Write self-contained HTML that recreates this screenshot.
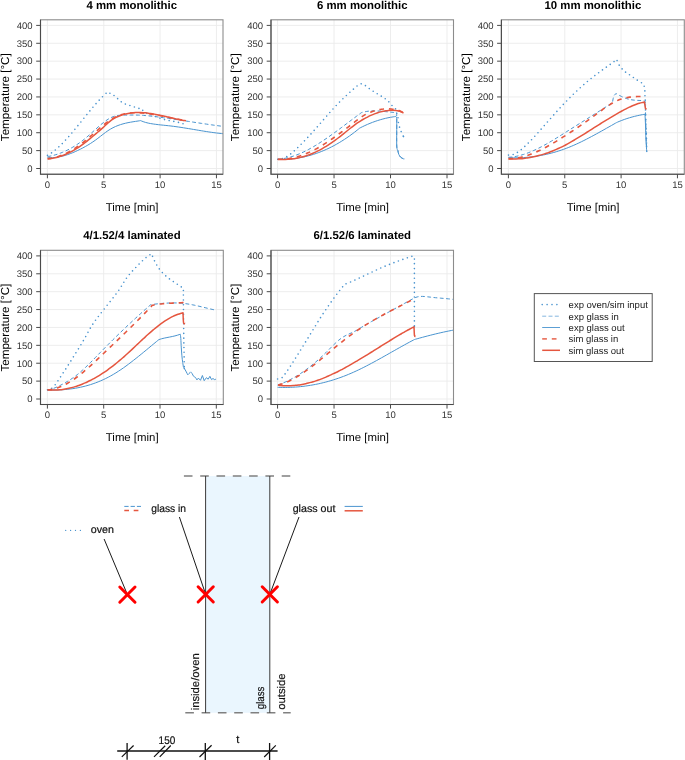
<!DOCTYPE html><html><head><meta charset="utf-8"><style>html,body{margin:0;padding:0;background:#fff;overflow:hidden;}svg{display:block;will-change:transform;}text{font-family:"Liberation Sans",sans-serif;text-rendering:geometricPrecision;}</style></head><body>
<svg width="685" height="760" viewBox="0 0 685 760">
<rect width="685" height="760" fill="#fff"/>
<clipPath id="c0"><rect x="40.5" y="19.8" width="182.5" height="154.4"/></clipPath>
<path d="M40.5 168.5H223M40.5 150.61H223M40.5 132.72H223M40.5 114.84H223M40.5 96.95H223M40.5 79.06H223M40.5 61.17H223M40.5 43.29H223M40.5 25.4H223M47.4 19.8V174.2M103.75 19.8V174.2M160.1 19.8V174.2M216.45 19.8V174.2" stroke="#ebebeb" stroke-width="0.9" fill="none"/>
<g clip-path="url(#c0)" fill="none" stroke-linejoin="round">
<path d="M47.5 155.4C47.93 155.14 49.24 154.4 50.1 153.83C50.97 153.27 51.84 152.66 52.71 152.02C53.58 151.38 54.44 150.69 55.31 149.98C56.18 149.26 57.05 148.5 57.92 147.72C58.79 146.94 59.65 146.12 60.52 145.28C61.39 144.44 62.26 143.57 63.13 142.67C63.99 141.78 64.86 140.85 65.73 139.91C66.6 138.97 67.47 138.01 68.33 137.03C69.2 136.04 70.07 135.04 70.94 134.03C71.81 133.02 72.68 131.99 73.54 130.95C74.41 129.91 75.28 128.86 76.15 127.8C77.02 126.74 77.88 125.67 78.75 124.6C79.62 123.53 80.49 122.45 81.36 121.38C82.22 120.3 83.09 119.22 83.96 118.15C84.83 117.07 85.7 116 86.57 114.93C87.43 113.86 88.3 112.8 89.17 111.75C90.04 110.69 90.91 109.65 91.77 108.62C92.64 107.59 93.51 106.56 94.38 105.56C95.25 104.56 96.11 103.57 96.98 102.6C97.85 101.63 98.72 100.68 99.59 99.75C100.46 98.83 101.32 97.92 102.19 97.04C103.06 96.16 103.93 95.31 104.8 94.48C105.66 93.66 106.97 92.5 107.4 92.1C107.83 92.29 109.14 92.83 110.01 93.25C110.88 93.67 111.75 94.09 112.62 94.63C113.48 95.17 114.35 95.76 115.22 96.47C116.09 97.17 116.96 98.08 117.83 98.87C118.7 99.66 119.57 100.52 120.44 101.21C121.31 101.9 122.18 102.49 123.05 102.99C123.92 103.49 124.78 103.86 125.65 104.21C126.52 104.56 127.39 104.81 128.26 105.08C129.13 105.35 130 105.56 130.87 105.83C131.74 106.1 132.61 106.38 133.48 106.68C134.35 106.98 135.22 107.33 136.08 107.61C136.95 107.89 137.82 108.18 138.69 108.34C139.56 108.51 140.87 108.56 141.3 108.6C141.73 109.09 143.04 110.8 143.91 111.57C144.78 112.34 145.64 112.79 146.51 113.23C147.38 113.67 148.25 113.9 149.12 114.21C149.99 114.52 150.86 114.78 151.73 115.08C152.59 115.39 153.46 115.72 154.33 116.04C155.2 116.37 156.07 116.71 156.94 117.04C157.81 117.36 158.68 117.69 159.54 118C160.41 118.31 161.28 118.61 162.15 118.88C163.02 119.15 163.89 119.4 164.76 119.62C165.62 119.85 166.49 120.04 167.36 120.23C168.23 120.41 169.1 120.58 169.97 120.74C170.84 120.9 171.71 121.05 172.57 121.21C173.44 121.37 174.31 121.53 175.18 121.7C176.05 121.87 176.92 122.04 177.79 122.24C178.66 122.44 179.53 122.65 180.39 122.89C181.26 123.14 182.57 123.57 183 123.7" stroke="#4a94cf" stroke-width="1.65" stroke-dasharray="0 4.75" stroke-linecap="round"/>
<circle cx="183" cy="123.7" r="0.82" fill="#4a94cf" stroke="none"/>
<path d="M47.6 156.6C48.02 156.52 49.28 156.3 50.12 156.13C50.96 155.95 51.8 155.76 52.64 155.56C53.48 155.35 54.32 155.12 55.16 154.88C56 154.64 56.84 154.38 57.68 154.1C58.52 153.83 59.36 153.53 60.2 153.22C61.04 152.91 61.88 152.58 62.72 152.23C63.56 151.88 64.4 151.51 65.24 151.13C66.08 150.74 66.92 150.34 67.76 149.92C68.6 149.5 69.44 149.06 70.28 148.6C71.12 148.14 71.96 147.67 72.8 147.17C73.64 146.67 74.48 146.16 75.32 145.63C76.16 145.09 77 144.54 77.84 143.97C78.68 143.4 79.52 142.8 80.36 142.19C81.2 141.58 82.04 140.95 82.88 140.3C83.72 139.65 84.56 138.98 85.4 138.29C86.24 137.6 87.08 136.89 87.92 136.16C88.76 135.44 89.6 134.69 90.44 133.94C91.28 133.19 92.12 132.43 92.96 131.67C93.8 130.91 94.64 130.14 95.48 129.39C96.32 128.63 97.16 127.87 98 127.13C98.84 126.39 99.68 125.65 100.52 124.94C101.36 124.23 102.2 123.53 103.04 122.86C103.88 122.2 104.72 121.55 105.56 120.94C106.4 120.34 107.24 119.76 108.08 119.24C108.92 118.71 109.76 118.22 110.6 117.8C111.44 117.37 112.28 116.99 113.12 116.67C113.96 116.35 114.8 116.1 115.64 115.9C116.48 115.69 117.32 115.55 118.16 115.44C119 115.32 119.84 115.26 120.68 115.2C121.52 115.15 122.36 115.13 123.2 115.12C124.04 115.1 124.88 115.1 125.72 115.09C126.56 115.08 127.4 115.07 128.24 115.06C129.08 115.06 129.92 115.05 130.76 115.04C131.6 115.03 132.44 115.03 133.28 115.03C134.12 115.03 134.96 115.04 135.8 115.05C136.64 115.06 137.48 115.08 138.32 115.11C139.16 115.14 140 115.18 140.84 115.23C141.68 115.27 142.52 115.33 143.36 115.39C144.2 115.45 145.04 115.52 145.88 115.6C146.72 115.67 147.56 115.76 148.4 115.84C149.24 115.93 150.08 116.02 150.92 116.11C151.76 116.21 152.6 116.31 153.44 116.41C154.28 116.51 155.12 116.62 155.96 116.72C156.8 116.83 157.64 116.94 158.48 117.04C159.32 117.15 160.16 117.26 161 117.38C161.84 117.49 162.68 117.6 163.52 117.72C164.36 117.83 165.2 117.95 166.04 118.07C166.88 118.18 167.72 118.3 168.56 118.42C169.4 118.54 170.24 118.66 171.08 118.79C171.92 118.91 172.76 119.03 173.6 119.15C174.44 119.28 175.28 119.4 176.12 119.53C176.96 119.65 177.8 119.78 178.64 119.9C179.48 120.03 180.32 120.16 181.16 120.28C182 120.41 182.84 120.54 183.68 120.67C184.52 120.8 185.36 120.92 186.2 121.05C187.04 121.18 187.88 121.31 188.72 121.44C189.56 121.57 190.4 121.7 191.24 121.82C192.08 121.95 192.92 122.08 193.76 122.21C194.6 122.34 195.44 122.47 196.28 122.59C197.12 122.72 197.96 122.85 198.8 122.97C199.64 123.1 200.48 123.23 201.32 123.35C202.16 123.48 203 123.6 203.84 123.73C204.68 123.85 205.52 123.98 206.36 124.1C207.2 124.22 208.04 124.34 208.88 124.46C209.72 124.58 210.56 124.7 211.4 124.82C212.24 124.94 213.08 125.06 213.92 125.18C214.76 125.29 215.6 125.41 216.44 125.52C217.28 125.63 218.12 125.75 218.96 125.86C219.8 125.97 220.64 126.08 221.48 126.18C222.32 126.29 223.58 126.45 224 126.5" stroke="#4a94cf" stroke-width="1" stroke-dasharray="3.8 2.5"/>
<path d="M47.6 157.6C48.02 157.62 49.28 157.7 50.11 157.71C50.95 157.72 51.79 157.71 52.63 157.67C53.46 157.63 54.3 157.56 55.14 157.48C55.98 157.39 56.82 157.28 57.65 157.15C58.49 157.01 59.33 156.86 60.17 156.68C61.01 156.51 61.84 156.31 62.68 156.1C63.52 155.88 64.36 155.65 65.19 155.4C66.03 155.14 66.87 154.87 67.71 154.59C68.55 154.3 69.38 154 70.22 153.68C71.06 153.36 71.9 153.03 72.74 152.68C73.57 152.33 74.41 151.97 75.25 151.6C76.09 151.23 76.92 150.84 77.76 150.44C78.6 150.05 79.44 149.64 80.28 149.22C81.11 148.8 81.95 148.37 82.79 147.93C83.63 147.48 84.46 147.03 85.3 146.56C86.14 146.09 86.98 145.61 87.82 145.11C88.65 144.61 89.49 144.1 90.33 143.57C91.17 143.04 92.01 142.49 92.84 141.93C93.68 141.36 94.52 140.78 95.36 140.18C96.19 139.58 97.03 138.95 97.87 138.31C98.71 137.68 99.55 137.01 100.38 136.36C101.22 135.71 102.06 135.04 102.9 134.4C103.74 133.75 104.57 133.1 105.41 132.49C106.25 131.87 107.09 131.27 107.92 130.71C108.76 130.15 109.6 129.62 110.44 129.12C111.28 128.63 112.11 128.17 112.95 127.74C113.79 127.31 114.63 126.91 115.46 126.54C116.3 126.17 117.14 125.83 117.98 125.51C118.82 125.19 119.65 124.89 120.49 124.62C121.33 124.35 122.17 124.1 123.01 123.86C123.84 123.63 124.68 123.42 125.52 123.22C126.36 123.02 127.19 122.84 128.03 122.67C128.87 122.5 129.71 122.35 130.55 122.2C131.38 122.05 132.22 121.91 133.06 121.78C133.9 121.64 134.74 121.51 135.57 121.38C136.41 121.25 137.25 121.13 138.09 121C138.92 120.87 140.18 120.67 140.6 120.6C141.02 120.77 142.28 121.33 143.13 121.63C143.97 121.94 144.81 122.2 145.65 122.44C146.5 122.69 147.34 122.89 148.18 123.08C149.02 123.27 149.87 123.43 150.71 123.58C151.55 123.73 152.39 123.86 153.24 123.99C154.08 124.12 154.92 124.23 155.76 124.34C156.61 124.46 157.45 124.56 158.29 124.66C159.13 124.75 159.98 124.85 160.82 124.94C161.66 125.03 162.5 125.11 163.35 125.2C164.19 125.28 165.03 125.37 165.87 125.46C166.72 125.54 167.56 125.63 168.4 125.72C169.24 125.81 170.08 125.91 170.93 126.01C171.77 126.11 172.61 126.21 173.45 126.32C174.3 126.43 175.14 126.54 175.98 126.66C176.82 126.77 177.67 126.89 178.51 127.02C179.35 127.14 180.19 127.26 181.04 127.39C181.88 127.52 182.72 127.65 183.56 127.79C184.41 127.92 185.25 128.06 186.09 128.19C186.93 128.33 187.78 128.47 188.62 128.61C189.46 128.75 190.3 128.89 191.15 129.03C191.99 129.17 192.83 129.31 193.67 129.46C194.52 129.6 195.36 129.74 196.2 129.88C197.04 130.03 197.88 130.17 198.73 130.31C199.57 130.45 200.41 130.59 201.25 130.73C202.1 130.87 202.94 131.01 203.78 131.14C204.62 131.28 205.47 131.41 206.31 131.54C207.15 131.68 207.99 131.81 208.84 131.93C209.68 132.06 210.52 132.18 211.36 132.3C212.21 132.42 213.05 132.54 213.89 132.65C214.73 132.77 215.58 132.88 216.42 132.98C217.26 133.09 218.1 133.19 218.95 133.28C219.79 133.38 220.63 133.47 221.47 133.56C222.32 133.64 223.58 133.76 224 133.8" stroke="#4a94cf" stroke-width="1"/>
<path d="M47.6 158.6C48.02 158.56 49.28 158.45 50.12 158.34C50.96 158.23 51.79 158.1 52.63 157.93C53.47 157.77 54.31 157.59 55.15 157.38C55.99 157.17 56.83 156.94 57.67 156.68C58.5 156.42 59.34 156.14 60.18 155.84C61.02 155.54 61.86 155.21 62.7 154.87C63.54 154.52 64.38 154.15 65.21 153.76C66.05 153.37 66.89 152.96 67.73 152.53C68.57 152.1 69.41 151.64 70.25 151.17C71.09 150.7 71.92 150.21 72.76 149.7C73.6 149.19 74.44 148.66 75.28 148.11C76.12 147.56 76.96 146.99 77.8 146.4C78.64 145.82 79.47 145.21 80.31 144.59C81.15 143.97 81.99 143.33 82.83 142.68C83.67 142.03 84.51 141.35 85.35 140.67C86.18 139.98 87.02 139.28 87.86 138.57C88.7 137.87 89.54 137.14 90.38 136.42C91.22 135.69 92.06 134.96 92.89 134.23C93.73 133.49 94.57 132.75 95.41 132.02C96.25 131.28 97.09 130.54 97.93 129.81C98.77 129.08 99.6 128.35 100.44 127.63C101.28 126.91 102.12 126.2 102.96 125.51C103.8 124.82 104.64 124.13 105.48 123.48C106.32 122.82 107.15 122.18 107.99 121.57C108.83 120.96 109.67 120.37 110.51 119.82C111.35 119.27 112.19 118.75 113.03 118.27C113.86 117.79 114.7 117.35 115.54 116.94C116.38 116.53 117.22 116.16 118.06 115.83C118.9 115.49 119.74 115.19 120.57 114.91C121.41 114.64 122.25 114.4 123.09 114.19C123.93 113.97 124.77 113.79 125.61 113.62C126.45 113.46 127.28 113.33 128.12 113.21C128.96 113.09 129.8 113 130.64 112.93C131.48 112.85 132.32 112.8 133.16 112.76C134 112.72 134.83 112.7 135.67 112.7C136.51 112.69 137.35 112.7 138.19 112.73C139.03 112.75 139.87 112.79 140.71 112.84C141.54 112.89 142.38 112.95 143.22 113.02C144.06 113.1 144.9 113.18 145.74 113.28C146.58 113.37 147.42 113.48 148.25 113.59C149.09 113.7 149.93 113.82 150.77 113.95C151.61 114.08 152.45 114.21 153.29 114.35C154.13 114.49 154.96 114.64 155.8 114.79C156.64 114.94 157.48 115.1 158.32 115.25C159.16 115.41 160 115.58 160.84 115.74C161.68 115.91 162.51 116.08 163.35 116.25C164.19 116.42 165.03 116.6 165.87 116.77C166.71 116.94 167.55 117.12 168.39 117.29C169.22 117.47 170.06 117.64 170.9 117.82C171.74 117.99 172.58 118.16 173.42 118.33C174.26 118.5 175.1 118.67 175.93 118.84C176.77 119 177.61 119.16 178.45 119.32C179.29 119.48 180.13 119.63 180.97 119.78C181.81 119.93 182.64 120.07 183.48 120.21C184.32 120.35 185.58 120.53 186 120.6" stroke="#e5563f" stroke-width="1.6" stroke-dasharray="4.7 4.9"/>
<path d="M47.6 159.1C48.02 159.05 49.28 158.92 50.12 158.8C50.96 158.67 51.79 158.53 52.63 158.37C53.47 158.21 54.31 158.03 55.15 157.83C55.99 157.63 56.83 157.41 57.67 157.17C58.5 156.93 59.34 156.68 60.18 156.4C61.02 156.12 61.86 155.82 62.7 155.51C63.54 155.19 64.38 154.86 65.21 154.5C66.05 154.15 66.89 153.77 67.73 153.38C68.57 152.99 69.41 152.58 70.25 152.15C71.09 151.72 71.92 151.27 72.76 150.81C73.6 150.34 74.44 149.85 75.28 149.35C76.12 148.85 76.96 148.32 77.8 147.78C78.64 147.24 79.47 146.68 80.31 146.11C81.15 145.53 81.99 144.94 82.83 144.32C83.67 143.71 84.51 143.08 85.35 142.43C86.18 141.78 87.02 141.12 87.86 140.44C88.7 139.76 89.54 139.07 90.38 138.38C91.22 137.68 92.06 136.97 92.89 136.27C93.73 135.56 94.57 134.85 95.41 134.14C96.25 133.44 97.09 132.74 97.93 132.03C98.77 131.32 99.6 130.63 100.44 129.9C101.28 129.17 102.12 128.41 102.96 127.64C103.8 126.86 104.64 126.03 105.48 125.25C106.32 124.46 107.15 123.65 107.99 122.92C108.83 122.19 109.67 121.5 110.51 120.87C111.35 120.24 112.19 119.66 113.03 119.12C113.86 118.59 114.7 118.11 115.54 117.66C116.38 117.21 117.22 116.81 118.06 116.44C118.9 116.07 119.74 115.74 120.57 115.44C121.41 115.14 122.25 114.87 123.09 114.62C123.93 114.38 124.77 114.16 125.61 113.96C126.45 113.77 127.28 113.59 128.12 113.44C128.96 113.28 129.8 113.15 130.64 113.03C131.48 112.92 132.32 112.82 133.16 112.75C134 112.67 134.83 112.61 135.67 112.57C136.51 112.53 137.35 112.51 138.19 112.5C139.03 112.5 139.87 112.51 140.71 112.53C141.54 112.56 142.38 112.6 143.22 112.66C144.06 112.71 144.9 112.79 145.74 112.87C146.58 112.95 147.42 113.05 148.25 113.15C149.09 113.26 149.93 113.38 150.77 113.51C151.61 113.64 152.45 113.78 153.29 113.92C154.13 114.07 154.96 114.23 155.8 114.39C156.64 114.55 157.48 114.72 158.32 114.9C159.16 115.07 160 115.25 160.84 115.44C161.68 115.62 162.51 115.81 163.35 116C164.19 116.19 165.03 116.39 165.87 116.59C166.71 116.78 167.55 116.98 168.39 117.18C169.22 117.37 170.06 117.57 170.9 117.77C171.74 117.96 172.58 118.15 173.42 118.35C174.26 118.54 175.1 118.72 175.93 118.91C176.77 119.09 177.61 119.27 178.45 119.44C179.29 119.61 180.13 119.78 180.97 119.94C181.81 120.1 182.64 120.25 183.48 120.4C184.32 120.54 185.58 120.73 186 120.8" stroke="#e5563f" stroke-width="1.5"/>
</g>
<rect x="40.5" y="19.8" width="182.5" height="154.4" fill="none" stroke="#8c8c8c" stroke-width="1.1"/>
<path d="M40.5 19.8V174.2H223" fill="none" stroke="#4a4a4a" stroke-width="1.1"/>
<path d="M36.2 168.5H40.5M36.2 150.61H40.5M36.2 132.72H40.5M36.2 114.84H40.5M36.2 96.95H40.5M36.2 79.06H40.5M36.2 61.17H40.5M36.2 43.29H40.5M36.2 25.4H40.5M47.4 174.2V178.3M103.75 174.2V178.3M160.1 174.2V178.3M216.45 174.2V178.3" stroke="#4a4a4a" stroke-width="1" fill="none"/>
<text x="32.6" y="171.8" font-size="9.5" fill="#333333" text-anchor="end">0</text>
<text x="32.6" y="153.91" font-size="9.5" fill="#333333" text-anchor="end">50</text>
<text x="32.6" y="136.03" font-size="9.5" fill="#333333" text-anchor="end">100</text>
<text x="32.6" y="118.14" font-size="9.5" fill="#333333" text-anchor="end">150</text>
<text x="32.6" y="100.25" font-size="9.5" fill="#333333" text-anchor="end">200</text>
<text x="32.6" y="82.36" font-size="9.5" fill="#333333" text-anchor="end">250</text>
<text x="32.6" y="64.47" font-size="9.5" fill="#333333" text-anchor="end">300</text>
<text x="32.6" y="46.59" font-size="9.5" fill="#333333" text-anchor="end">350</text>
<text x="32.6" y="28.7" font-size="9.5" fill="#333333" text-anchor="end">400</text>
<text x="47.4" y="187.8" font-size="9.5" fill="#333333" text-anchor="middle">0</text>
<text x="103.75" y="187.8" font-size="9.5" fill="#333333" text-anchor="middle">5</text>
<text x="160.1" y="187.8" font-size="9.5" fill="#333333" text-anchor="middle">10</text>
<text x="216.45" y="187.8" font-size="9.5" fill="#333333" text-anchor="middle">15</text>
<text x="131.75" y="8.7" font-size="11.4" font-weight="bold" fill="#000" text-anchor="middle">4 mm monolithic</text>
<text x="132.05" y="210.6" font-size="11.4" fill="#000" text-anchor="middle">Time [min]</text>
<text transform="translate(8.6 97.25) rotate(-90)" font-size="11.6" fill="#000" text-anchor="middle">Temperature [°C]</text>
<clipPath id="c1"><rect x="271" y="19.8" width="182.5" height="154.4"/></clipPath>
<path d="M271 168.5H453.5M271 150.61H453.5M271 132.72H453.5M271 114.84H453.5M271 96.95H453.5M271 79.06H453.5M271 61.17H453.5M271 43.29H453.5M271 25.4H453.5M277.55 19.8V174.2M334.04 19.8V174.2M390.52 19.8V174.2M447 19.8V174.2" stroke="#ebebeb" stroke-width="0.9" fill="none"/>
<g clip-path="url(#c1)" fill="none" stroke-linejoin="round">
<path d="M277.8 159.2C278.22 159.18 279.47 159.23 280.31 159.11C281.14 158.99 281.98 158.77 282.82 158.49C283.65 158.21 284.49 157.84 285.33 157.42C286.16 157 287 156.5 287.83 155.95C288.67 155.41 289.51 154.8 290.34 154.16C291.18 153.51 292.01 152.82 292.85 152.1C293.69 151.38 294.52 150.62 295.36 149.84C296.2 149.07 297.03 148.26 297.87 147.45C298.7 146.64 299.54 145.82 300.38 144.99C301.21 144.16 302.05 143.32 302.89 142.47C303.72 141.62 304.56 140.76 305.39 139.89C306.23 139.02 307.07 138.14 307.9 137.26C308.74 136.37 309.57 135.46 310.41 134.55C311.25 133.64 312.08 132.72 312.92 131.79C313.76 130.86 314.59 129.92 315.43 128.97C316.26 128.02 317.1 127.07 317.94 126.11C318.77 125.15 319.61 124.19 320.44 123.23C321.28 122.26 322.12 121.3 322.95 120.33C323.79 119.37 324.63 118.4 325.46 117.44C326.3 116.48 327.13 115.53 327.97 114.58C328.81 113.63 329.64 112.68 330.48 111.75C331.31 110.81 332.15 109.89 332.99 108.97C333.82 108.06 334.66 107.15 335.5 106.26C336.33 105.37 337.17 104.5 338 103.64C338.84 102.78 339.68 101.93 340.51 101.1C341.35 100.27 342.19 99.46 343.02 98.65C343.86 97.85 344.69 97.06 345.53 96.28C346.37 95.49 347.2 94.72 348.04 93.96C348.87 93.2 349.71 92.44 350.55 91.69C351.38 90.94 352.22 90.2 353.06 89.46C353.89 88.72 354.73 87.97 355.56 87.26C356.4 86.55 357.24 85.75 358.07 85.19C358.91 84.63 359.74 84.08 360.58 83.92C361.42 83.75 362.25 83.89 363.09 84.2C363.93 84.51 364.76 85.2 365.6 85.79C366.43 86.38 367.27 87.12 368.11 87.74C368.94 88.37 369.78 88.96 370.61 89.54C371.45 90.11 372.29 90.65 373.12 91.19C373.96 91.72 374.8 92.23 375.63 92.74C376.47 93.26 377.3 93.75 378.14 94.26C378.98 94.77 379.81 95.27 380.65 95.79C381.49 96.31 382.32 96.83 383.16 97.38C383.99 97.94 384.83 98.48 385.67 99.12C386.5 99.75 387.34 100.4 388.17 101.2C389.01 101.99 389.85 102.92 390.68 103.88C391.52 104.84 392.36 106.11 393.19 106.97C394.03 107.82 395.28 108.66 395.7 109C395.9 109.77 396.5 112.03 396.9 113.6C397.3 115.17 397.83 116.77 398.1 118.4C398.37 120.03 398.22 121.8 398.5 123.4C398.78 125 399.3 126.5 399.8 128C400.3 129.5 400.88 130.97 401.5 132.4C402.12 133.83 403.17 135.9 403.5 136.6" stroke="#4a94cf" stroke-width="1.65" stroke-dasharray="0 4.75" stroke-linecap="round"/>
<circle cx="403.5" cy="136.6" r="0.82" fill="#4a94cf" stroke="none"/>
<path d="M277.8 159.2C278.22 159.17 279.49 159.08 280.34 159C281.18 158.91 282.03 158.8 282.87 158.67C283.72 158.54 284.56 158.39 285.41 158.22C286.25 158.05 287.1 157.86 287.95 157.66C288.79 157.45 289.64 157.23 290.48 156.99C291.33 156.75 292.17 156.49 293.02 156.21C293.86 155.94 294.71 155.65 295.55 155.34C296.4 155.03 297.25 154.71 298.09 154.37C298.94 154.03 299.78 153.67 300.63 153.31C301.47 152.94 302.32 152.55 303.16 152.16C304.01 151.76 304.85 151.35 305.7 150.93C306.55 150.5 307.39 150.07 308.24 149.62C309.08 149.17 309.93 148.71 310.77 148.24C311.62 147.77 312.46 147.29 313.31 146.79C314.15 146.3 315 145.8 315.85 145.28C316.69 144.77 317.54 144.25 318.38 143.72C319.23 143.18 320.07 142.64 320.92 142.09C321.76 141.54 322.61 140.99 323.45 140.42C324.3 139.86 325.15 139.28 325.99 138.71C326.84 138.13 327.68 137.54 328.53 136.95C329.37 136.36 330.22 135.76 331.06 135.16C331.91 134.56 332.75 133.95 333.6 133.34C334.45 132.73 335.29 132.11 336.14 131.49C336.98 130.87 337.83 130.25 338.67 129.62C339.52 128.99 340.36 128.36 341.21 127.73C342.05 127.1 342.9 126.47 343.75 125.84C344.59 125.2 345.44 124.57 346.28 123.93C347.13 123.29 347.97 122.66 348.82 122.02C349.66 121.39 350.51 120.75 351.35 120.12C352.2 119.48 353.05 118.85 353.89 118.22C354.74 117.58 355.58 116.95 356.43 116.33C357.27 115.7 358.12 115.07 358.96 114.45C359.81 113.83 361.08 112.91 361.5 112.6C361.94 112.48 363.25 112.1 364.13 111.9C365.01 111.71 365.88 111.54 366.76 111.41C367.64 111.27 368.52 111.17 369.39 111.09C370.27 111.01 371.15 110.96 372.02 110.93C372.9 110.9 373.78 110.89 374.65 110.9C375.53 110.9 376.41 110.93 377.28 110.97C378.16 111.01 379.04 111.07 379.92 111.13C380.79 111.19 381.67 111.27 382.55 111.35C383.42 111.43 384.3 111.51 385.18 111.6C386.05 111.69 386.93 111.78 387.81 111.87C388.68 111.95 389.56 112.04 390.44 112.12C391.32 112.2 392.19 112.28 393.07 112.34C393.95 112.4 395.26 112.47 395.7 112.5C395.85 112.7 396.43 111.62 396.6 113.7C396.78 115.78 396.73 119.62 396.75 125C396.77 130.38 396.56 141.72 396.75 146C396.94 150.28 397.56 149.3 397.9 150.7C398.24 152.1 398.33 153.32 398.8 154.4C399.27 155.48 399.93 156.47 400.7 157.2C401.47 157.93 402.78 158.52 403.4 158.8C404.02 159.08 404.23 158.88 404.4 158.9" stroke="#4a94cf" stroke-width="1" stroke-dasharray="3.8 2.5"/>
<path d="M277.8 159.4C278.23 159.41 279.51 159.44 280.36 159.44C281.21 159.45 282.07 159.44 282.92 159.42C283.77 159.41 284.62 159.38 285.48 159.34C286.33 159.31 287.18 159.26 288.04 159.2C288.89 159.15 289.74 159.08 290.6 159C291.45 158.92 292.3 158.83 293.16 158.74C294.01 158.64 294.86 158.53 295.72 158.41C296.57 158.29 297.42 158.16 298.27 158.02C299.13 157.87 299.98 157.72 300.83 157.56C301.69 157.4 302.54 157.22 303.39 157.04C304.25 156.86 305.1 156.66 305.95 156.45C306.81 156.25 307.66 156.03 308.51 155.8C309.37 155.58 310.22 155.34 311.07 155.09C311.92 154.84 312.78 154.57 313.63 154.3C314.48 154.03 315.34 153.74 316.19 153.45C317.04 153.15 317.9 152.85 318.75 152.53C319.6 152.21 320.46 151.88 321.31 151.54C322.16 151.2 323.02 150.85 323.87 150.48C324.72 150.12 325.58 149.74 326.43 149.36C327.28 148.97 328.13 148.57 328.99 148.16C329.84 147.75 330.69 147.32 331.55 146.89C332.4 146.45 333.25 146.01 334.11 145.55C334.96 145.09 335.81 144.62 336.67 144.14C337.52 143.66 338.37 143.16 339.23 142.65C340.08 142.15 340.93 141.63 341.78 141.1C342.64 140.56 343.49 140.02 344.34 139.46C345.2 138.91 346.05 138.34 346.9 137.76C347.76 137.18 348.61 136.59 349.46 135.98C350.32 135.37 351.17 134.76 352.02 134.12C352.88 133.49 353.73 132.85 354.58 132.19C355.43 131.54 356.29 130.87 357.14 130.18C357.99 129.5 359.27 128.45 359.7 128.1C360.13 127.88 361.41 127.23 362.27 126.81C363.13 126.39 363.99 125.98 364.84 125.58C365.7 125.19 366.56 124.8 367.41 124.43C368.27 124.06 369.13 123.7 369.99 123.35C370.84 123 371.7 122.67 372.56 122.34C373.41 122.02 374.27 121.7 375.13 121.4C375.99 121.1 376.84 120.81 377.7 120.54C378.56 120.26 379.41 120 380.27 119.74C381.13 119.49 381.99 119.25 382.84 119.02C383.7 118.79 384.56 118.58 385.41 118.37C386.27 118.17 387.13 117.97 387.99 117.79C388.84 117.61 389.7 117.45 390.56 117.29C391.41 117.13 392.27 116.99 393.13 116.86C393.99 116.73 395.27 116.56 395.7 116.5C395.85 116.75 396.43 116.58 396.6 118C396.78 119.42 396.73 120.33 396.75 125C396.77 129.67 396.56 141.72 396.75 146C396.94 150.28 397.56 149.3 397.9 150.7C398.24 152.1 398.33 153.32 398.8 154.4C399.27 155.48 399.93 156.47 400.7 157.2C401.47 157.93 402.78 158.52 403.4 158.8C404.02 159.08 404.23 158.88 404.4 158.9" stroke="#4a94cf" stroke-width="1"/>
<path d="M277.8 159.2C278.22 159.21 279.48 159.27 280.32 159.28C281.17 159.28 282.01 159.26 282.85 159.23C283.69 159.19 284.53 159.14 285.37 159.06C286.21 158.99 287.05 158.9 287.9 158.79C288.74 158.67 289.58 158.54 290.42 158.39C291.26 158.25 292.1 158.08 292.94 157.9C293.79 157.71 294.63 157.51 295.47 157.29C296.31 157.07 297.15 156.84 297.99 156.59C298.83 156.34 299.67 156.07 300.52 155.78C301.36 155.5 302.2 155.2 303.04 154.89C303.88 154.57 304.72 154.24 305.56 153.9C306.41 153.56 307.25 153.2 308.09 152.82C308.93 152.45 309.77 152.06 310.61 151.66C311.45 151.26 312.29 150.85 313.14 150.42C313.98 150 314.82 149.56 315.66 149.1C316.5 148.65 317.34 148.19 318.18 147.71C319.03 147.24 319.87 146.75 320.71 146.25C321.55 145.75 322.39 145.24 323.23 144.72C324.07 144.2 324.91 143.67 325.76 143.12C326.6 142.58 327.44 142.03 328.28 141.47C329.12 140.91 329.96 140.34 330.8 139.76C331.65 139.18 332.49 138.6 333.33 138.01C334.17 137.41 335.01 136.81 335.85 136.21C336.69 135.6 337.53 134.99 338.38 134.37C339.22 133.75 340.06 133.13 340.9 132.5C341.74 131.88 342.58 131.25 343.42 130.61C344.27 129.98 345.11 129.34 345.95 128.7C346.79 128.06 347.63 127.42 348.47 126.77C349.31 126.13 350.15 125.48 351 124.84C351.84 124.19 352.68 123.55 353.52 122.9C354.36 122.26 355.2 121.61 356.04 120.97C356.89 120.33 357.73 119.68 358.57 119.06C359.41 118.44 360.25 117.83 361.09 117.25C361.93 116.67 362.77 116.11 363.62 115.6C364.46 115.09 365.3 114.61 366.14 114.17C366.98 113.73 367.82 113.33 368.66 112.95C369.51 112.58 370.35 112.23 371.19 111.92C372.03 111.6 372.87 111.31 373.71 111.04C374.55 110.77 375.39 110.53 376.24 110.31C377.08 110.1 377.92 109.9 378.76 109.73C379.6 109.57 380.44 109.42 381.28 109.3C382.13 109.18 382.97 109.09 383.81 109.02C384.65 108.95 385.49 108.91 386.33 108.88C387.17 108.86 388.01 108.87 388.86 108.9C389.7 108.92 390.54 108.97 391.38 109.05C392.22 109.13 393.06 109.23 393.9 109.37C394.75 109.51 395.59 109.67 396.43 109.88C397.27 110.09 398.11 110.34 398.95 110.63C399.79 110.93 400.63 111.26 401.48 111.66C402.32 112.05 403.58 112.78 404 113" stroke="#e5563f" stroke-width="1.6" stroke-dasharray="4.7 4.9"/>
<path d="M277.8 159.4C278.22 159.42 279.48 159.48 280.31 159.5C281.15 159.52 281.99 159.52 282.83 159.52C283.67 159.51 284.5 159.49 285.34 159.46C286.18 159.42 287.02 159.38 287.86 159.32C288.69 159.26 289.53 159.18 290.37 159.1C291.21 159.01 292.05 158.91 292.88 158.79C293.72 158.68 294.56 158.55 295.4 158.4C296.24 158.26 297.07 158.1 297.91 157.93C298.75 157.75 299.59 157.57 300.43 157.36C301.26 157.16 302.1 156.94 302.94 156.71C303.78 156.48 304.62 156.23 305.45 155.97C306.29 155.71 307.13 155.43 307.97 155.14C308.81 154.84 309.64 154.54 310.48 154.21C311.32 153.89 312.16 153.55 313 153.19C313.83 152.84 314.67 152.47 315.51 152.08C316.35 151.69 317.19 151.29 318.02 150.87C318.86 150.45 319.7 150.01 320.54 149.56C321.38 149.1 322.21 148.64 323.05 148.15C323.89 147.67 324.73 147.17 325.57 146.66C326.4 146.14 327.24 145.62 328.08 145.08C328.92 144.53 329.76 143.98 330.59 143.41C331.43 142.85 332.27 142.27 333.11 141.67C333.95 141.08 334.78 140.48 335.62 139.86C336.46 139.25 337.3 138.62 338.14 137.98C338.97 137.35 339.81 136.7 340.65 136.04C341.49 135.39 342.33 134.72 343.16 134.05C344 133.38 344.84 132.71 345.68 132.03C346.52 131.36 347.35 130.68 348.19 130.01C349.03 129.34 349.87 128.67 350.71 128.02C351.54 127.36 352.38 126.71 353.22 126.07C354.06 125.44 354.9 124.81 355.73 124.2C356.57 123.6 357.41 123.01 358.25 122.44C359.09 121.87 359.92 121.32 360.76 120.79C361.6 120.26 362.44 119.75 363.28 119.26C364.11 118.77 364.95 118.3 365.79 117.85C366.63 117.4 367.47 116.97 368.3 116.56C369.14 116.15 369.98 115.76 370.82 115.39C371.66 115.02 372.49 114.67 373.33 114.34C374.17 114.01 375.01 113.7 375.85 113.4C376.68 113.11 377.52 112.84 378.36 112.59C379.2 112.33 380.04 112.1 380.87 111.89C381.71 111.67 382.55 111.48 383.39 111.3C384.23 111.13 385.06 110.97 385.9 110.83C386.74 110.7 387.58 110.58 388.42 110.48C389.25 110.39 390.09 110.32 390.93 110.28C391.77 110.25 392.61 110.23 393.44 110.27C394.28 110.3 395.12 110.37 395.96 110.49C396.8 110.61 397.63 110.77 398.47 110.99C399.31 111.21 400.15 111.48 400.99 111.81C401.82 112.15 403.08 112.8 403.5 113" stroke="#e5563f" stroke-width="1.5"/>
</g>
<rect x="271" y="19.8" width="182.5" height="154.4" fill="none" stroke="#8c8c8c" stroke-width="1.1"/>
<path d="M271 19.8V174.2H453.5" fill="none" stroke="#4a4a4a" stroke-width="1.1"/>
<path d="M266.7 168.5H271M266.7 150.61H271M266.7 132.72H271M266.7 114.84H271M266.7 96.95H271M266.7 79.06H271M266.7 61.17H271M266.7 43.29H271M266.7 25.4H271M277.55 174.2V178.3M334.04 174.2V178.3M390.52 174.2V178.3M447 174.2V178.3" stroke="#4a4a4a" stroke-width="1" fill="none"/>
<text x="263.1" y="171.8" font-size="9.5" fill="#333333" text-anchor="end">0</text>
<text x="263.1" y="153.91" font-size="9.5" fill="#333333" text-anchor="end">50</text>
<text x="263.1" y="136.03" font-size="9.5" fill="#333333" text-anchor="end">100</text>
<text x="263.1" y="118.14" font-size="9.5" fill="#333333" text-anchor="end">150</text>
<text x="263.1" y="100.25" font-size="9.5" fill="#333333" text-anchor="end">200</text>
<text x="263.1" y="82.36" font-size="9.5" fill="#333333" text-anchor="end">250</text>
<text x="263.1" y="64.47" font-size="9.5" fill="#333333" text-anchor="end">300</text>
<text x="263.1" y="46.59" font-size="9.5" fill="#333333" text-anchor="end">350</text>
<text x="263.1" y="28.7" font-size="9.5" fill="#333333" text-anchor="end">400</text>
<text x="277.55" y="187.8" font-size="9.5" fill="#333333" text-anchor="middle">0</text>
<text x="334.04" y="187.8" font-size="9.5" fill="#333333" text-anchor="middle">5</text>
<text x="390.52" y="187.8" font-size="9.5" fill="#333333" text-anchor="middle">10</text>
<text x="447" y="187.8" font-size="9.5" fill="#333333" text-anchor="middle">15</text>
<text x="362.25" y="8.7" font-size="11.4" font-weight="bold" fill="#000" text-anchor="middle">6 mm monolithic</text>
<text x="362.55" y="210.6" font-size="11.4" fill="#000" text-anchor="middle">Time [min]</text>
<text transform="translate(239.1 97.25) rotate(-90)" font-size="11.6" fill="#000" text-anchor="middle">Temperature [°C]</text>
<clipPath id="c2"><rect x="501.4" y="19.8" width="182.9" height="154.4"/></clipPath>
<path d="M501.4 168.5H684.3M501.4 150.61H684.3M501.4 132.72H684.3M501.4 114.84H684.3M501.4 96.95H684.3M501.4 79.06H684.3M501.4 61.17H684.3M501.4 43.29H684.3M501.4 25.4H684.3M508.4 19.8V174.2M564.75 19.8V174.2M621.1 19.8V174.2M677.45 19.8V174.2" stroke="#ebebeb" stroke-width="0.9" fill="none"/>
<g clip-path="url(#c2)" fill="none" stroke-linejoin="round">
<path d="M508.5 155.1C508.92 155.08 510.18 155.12 511.01 155C511.85 154.87 512.69 154.63 513.53 154.33C514.37 154.03 515.2 153.63 516.04 153.18C516.88 152.73 517.72 152.2 518.56 151.62C519.39 151.04 520.23 150.4 521.07 149.72C521.91 149.05 522.75 148.31 523.58 147.56C524.42 146.81 525.26 146.02 526.1 145.22C526.94 144.42 527.77 143.59 528.61 142.74C529.45 141.9 530.29 141.03 531.13 140.15C531.96 139.27 532.8 138.38 533.64 137.47C534.48 136.57 535.32 135.65 536.15 134.72C536.99 133.8 537.83 132.86 538.67 131.92C539.51 130.99 540.34 130.04 541.18 129.1C542.02 128.15 542.86 127.2 543.7 126.25C544.53 125.3 545.37 124.35 546.21 123.4C547.05 122.45 547.89 121.49 548.72 120.54C549.56 119.59 550.4 118.64 551.24 117.7C552.08 116.75 552.91 115.81 553.75 114.87C554.59 113.93 555.43 113 556.27 112.07C557.1 111.14 557.94 110.21 558.78 109.3C559.62 108.38 560.46 107.47 561.29 106.57C562.13 105.67 562.97 104.78 563.81 103.89C564.64 103.01 565.48 102.14 566.32 101.27C567.16 100.41 568 99.55 568.83 98.7C569.67 97.85 570.51 97.02 571.35 96.19C572.19 95.36 573.02 94.54 573.86 93.73C574.7 92.92 575.54 92.12 576.38 91.33C577.21 90.54 578.05 89.76 578.89 88.99C579.73 88.22 580.57 87.46 581.4 86.71C582.24 85.96 583.08 85.22 583.92 84.49C584.76 83.76 585.59 83.04 586.43 82.33C587.27 81.62 588.11 80.92 588.95 80.23C589.78 79.55 590.62 78.87 591.46 78.2C592.3 77.54 593.14 76.88 593.97 76.23C594.81 75.58 595.65 74.95 596.49 74.31C597.33 73.68 598.16 73.06 599 72.44C599.84 71.83 600.68 71.22 601.52 70.61C602.35 70.01 603.19 69.41 604.03 68.82C604.87 68.22 605.71 67.64 606.54 67.05C607.38 66.46 608.22 65.87 609.06 65.28C609.9 64.68 610.73 64.08 611.57 63.46C612.41 62.84 613.25 62.21 614.09 61.55C614.92 60.89 616.18 59.84 616.6 59.5C617.04 60.45 618.35 63.7 619.22 65.21C620.09 66.73 620.97 67.59 621.84 68.6C622.71 69.61 623.59 70.5 624.46 71.26C625.33 72.03 626.21 72.58 627.08 73.18C627.95 73.79 628.83 74.3 629.7 74.89C630.57 75.47 631.45 76.09 632.32 76.7C633.19 77.31 634.07 77.94 634.94 78.56C635.81 79.17 636.69 79.78 637.56 80.37C638.43 80.95 639.31 81.52 640.18 82.04C641.05 82.57 642.36 83.26 642.8 83.5C643.1 84.17 644.25 86 644.6 87.5C644.95 89 644.83 90.85 644.9 92.5C644.97 94.15 644.93 95.88 645 97.4C645.07 98.92 645.22 99.23 645.3 101.6C645.38 103.97 645.42 108.28 645.5 111.6C645.58 114.92 645.72 119.03 645.8 121.5C645.88 123.97 645.93 124.75 646 126.4C646.07 128.05 646.13 129.75 646.2 131.4C646.27 133.05 646.35 134.65 646.4 136.3C646.45 137.95 646.47 139.65 646.5 141.3C646.53 142.95 646.58 145.38 646.6 146.2" stroke="#4a94cf" stroke-width="1.65" stroke-dasharray="0 4.75" stroke-linecap="round"/>
<circle cx="646.6" cy="146.2" r="0.82" fill="#4a94cf" stroke="none"/>
<path d="M508.5 157.3C508.92 157.27 510.19 157.19 511.04 157.1C511.88 157.02 512.73 156.91 513.57 156.78C514.42 156.65 515.26 156.51 516.11 156.34C516.96 156.17 517.8 155.99 518.65 155.79C519.49 155.59 520.34 155.37 521.18 155.13C522.03 154.89 522.87 154.64 523.72 154.37C524.57 154.1 525.41 153.82 526.26 153.52C527.1 153.22 527.95 152.9 528.79 152.57C529.64 152.25 530.48 151.9 531.33 151.55C532.17 151.19 533.02 150.82 533.87 150.44C534.71 150.06 535.56 149.67 536.4 149.27C537.25 148.86 538.09 148.45 538.94 148.02C539.78 147.6 540.63 147.16 541.48 146.72C542.32 146.27 543.17 145.82 544.01 145.36C544.86 144.89 545.7 144.42 546.55 143.94C547.39 143.47 548.24 142.98 549.09 142.49C549.93 142 550.78 141.5 551.62 141C552.47 140.49 553.31 139.98 554.16 139.47C555 138.96 555.85 138.44 556.7 137.92C557.54 137.39 558.39 136.87 559.23 136.34C560.08 135.81 560.92 135.28 561.77 134.75C562.61 134.22 563.46 133.68 564.3 133.15C565.15 132.61 566 132.08 566.84 131.54C567.69 131.01 568.53 130.47 569.38 129.94C570.22 129.4 571.07 128.87 571.91 128.34C572.76 127.81 573.61 127.27 574.45 126.74C575.3 126.21 576.14 125.68 576.99 125.15C577.83 124.62 578.68 124.09 579.52 123.56C580.37 123.04 581.22 122.51 582.06 121.98C582.91 121.45 583.75 120.92 584.6 120.39C585.44 119.86 586.29 119.33 587.13 118.8C587.98 118.28 588.83 117.75 589.67 117.22C590.52 116.68 591.36 116.15 592.21 115.62C593.05 115.09 593.9 114.56 594.74 114.02C595.59 113.49 596.43 112.96 597.28 112.42C598.13 111.88 598.97 111.35 599.82 110.81C600.66 110.27 601.51 109.73 602.35 109.19C603.2 108.65 604.04 108.11 604.89 107.56C605.74 107.02 606.58 106.47 607.43 105.92C608.27 105.37 609.12 104.82 609.96 104.27C610.81 103.71 612.08 102.88 612.5 102.6C612.6 101.97 612.8 100.02 613.1 98.8C613.4 97.58 613.82 96.18 614.3 95.3C614.78 94.42 615.72 93.8 616 93.5C616.44 93.75 617.78 94.53 618.66 95.01C619.55 95.49 620.44 95.96 621.33 96.39C622.22 96.82 623.1 97.23 623.99 97.59C624.88 97.96 625.77 98.3 626.65 98.6C627.54 98.89 628.43 99.15 629.32 99.36C630.21 99.57 631.09 99.74 631.98 99.88C632.87 100.01 633.76 100.11 634.65 100.19C635.53 100.28 636.42 100.33 637.31 100.37C638.2 100.42 639.08 100.43 639.97 100.48C640.86 100.53 641.75 100.48 642.64 100.67C643.52 100.86 644.86 101.45 645.3 101.6C645.35 103.83 645.48 110.27 645.6 115C645.72 119.73 645.85 125 646 130C646.15 135 646.37 141.33 646.5 145C646.63 148.67 646.75 150.83 646.8 152" stroke="#4a94cf" stroke-width="1" stroke-dasharray="3.8 2.5"/>
<path d="M508.5 157.7C508.92 157.71 510.17 157.76 511.01 157.78C511.85 157.8 512.69 157.82 513.52 157.83C514.36 157.83 515.2 157.83 516.03 157.82C516.87 157.82 517.71 157.8 518.55 157.78C519.38 157.76 520.22 157.73 521.06 157.69C521.9 157.66 522.73 157.61 523.57 157.56C524.41 157.51 525.24 157.45 526.08 157.39C526.92 157.32 527.76 157.25 528.59 157.17C529.43 157.09 530.27 157 531.1 156.91C531.94 156.81 532.78 156.71 533.62 156.6C534.45 156.49 535.29 156.37 536.13 156.24C536.97 156.12 537.8 155.99 538.64 155.85C539.48 155.7 540.31 155.56 541.15 155.4C541.99 155.24 542.83 155.08 543.66 154.91C544.5 154.74 545.34 154.56 546.17 154.37C547.01 154.18 547.85 153.99 548.69 153.78C549.52 153.58 550.36 153.37 551.2 153.15C552.03 152.93 552.87 152.71 553.71 152.47C554.55 152.24 555.38 151.99 556.22 151.74C557.06 151.49 557.9 151.23 558.73 150.96C559.57 150.7 560.41 150.42 561.24 150.14C562.08 149.85 562.92 149.56 563.76 149.26C564.59 148.96 565.43 148.65 566.27 148.34C567.1 148.02 567.94 147.7 568.78 147.36C569.62 147.03 570.45 146.69 571.29 146.34C572.13 145.99 572.97 145.63 573.8 145.26C574.64 144.9 575.48 144.52 576.31 144.14C577.15 143.76 577.99 143.37 578.83 142.97C579.66 142.58 580.5 142.17 581.34 141.77C582.17 141.36 583.01 140.94 583.85 140.52C584.69 140.1 585.52 139.68 586.36 139.25C587.2 138.82 588.03 138.38 588.87 137.95C589.71 137.51 590.55 137.06 591.38 136.62C592.22 136.17 593.06 135.72 593.9 135.27C594.73 134.82 595.57 134.36 596.41 133.9C597.24 133.45 598.08 132.99 598.92 132.52C599.76 132.06 600.59 131.6 601.43 131.13C602.27 130.66 603.1 130.2 603.94 129.73C604.78 129.26 605.62 128.79 606.45 128.31C607.29 127.84 608.13 127.37 608.97 126.89C609.8 126.42 610.64 125.94 611.48 125.47C612.31 124.99 613.15 124.51 613.99 124.03C614.83 123.56 616.08 122.84 616.5 122.6C616.93 122.41 618.23 121.84 619.09 121.48C619.95 121.12 620.82 120.77 621.68 120.44C622.55 120.1 623.41 119.78 624.27 119.47C625.14 119.17 626 118.87 626.86 118.59C627.73 118.3 628.59 118.03 629.45 117.77C630.32 117.51 631.18 117.26 632.05 117.02C632.91 116.79 633.77 116.56 634.64 116.34C635.5 116.12 636.36 115.92 637.23 115.72C638.09 115.52 638.95 115.34 639.82 115.16C640.68 114.98 641.55 114.81 642.41 114.65C643.27 114.49 644.57 114.28 645 114.2C645.08 116 645.35 120.87 645.5 125C645.65 129.13 645.77 135.58 645.9 139C646.03 142.42 646.15 143.32 646.3 145.5C646.45 147.68 646.72 151 646.8 152.1" stroke="#4a94cf" stroke-width="1"/>
<path d="M508.5 158.6C508.92 158.6 510.19 158.61 511.03 158.58C511.87 158.55 512.71 158.5 513.56 158.42C514.4 158.35 515.24 158.25 516.08 158.14C516.93 158.03 517.77 157.89 518.61 157.73C519.45 157.58 520.3 157.41 521.14 157.21C521.98 157.02 522.82 156.81 523.67 156.58C524.51 156.36 525.35 156.11 526.19 155.85C527.04 155.59 527.88 155.31 528.72 155.02C529.56 154.72 530.41 154.41 531.25 154.09C532.09 153.77 532.94 153.43 533.78 153.08C534.62 152.73 535.46 152.37 536.31 151.99C537.15 151.62 537.99 151.23 538.83 150.83C539.68 150.43 540.52 150.02 541.36 149.6C542.2 149.18 543.05 148.75 543.89 148.31C544.73 147.87 545.57 147.42 546.42 146.96C547.26 146.5 548.1 146.03 548.94 145.56C549.79 145.09 550.63 144.6 551.47 144.12C552.31 143.63 553.16 143.14 554 142.64C554.84 142.14 555.69 141.64 556.53 141.13C557.37 140.62 558.21 140.11 559.06 139.59C559.9 139.07 560.74 138.55 561.58 138.02C562.43 137.5 563.27 136.97 564.11 136.43C564.95 135.9 565.8 135.36 566.64 134.82C567.48 134.27 568.32 133.73 569.17 133.18C570.01 132.63 570.85 132.07 571.69 131.51C572.54 130.95 573.38 130.39 574.22 129.83C575.06 129.26 575.91 128.69 576.75 128.12C577.59 127.54 578.44 126.96 579.28 126.38C580.12 125.8 580.96 125.22 581.81 124.63C582.65 124.04 583.49 123.45 584.33 122.86C585.18 122.26 586.02 121.67 586.86 121.06C587.7 120.46 588.55 119.86 589.39 119.25C590.23 118.64 591.07 118.03 591.92 117.42C592.76 116.81 593.6 116.19 594.44 115.57C595.29 114.95 596.13 114.33 596.97 113.71C597.81 113.09 598.66 112.46 599.5 111.84C600.34 111.23 601.19 110.61 602.03 110C602.87 109.39 603.71 108.79 604.56 108.2C605.4 107.62 606.24 107.03 607.08 106.47C607.93 105.91 608.77 105.36 609.61 104.83C610.45 104.3 611.3 103.79 612.14 103.3C612.98 102.81 613.82 102.34 614.67 101.9C615.51 101.46 616.35 101.04 617.19 100.65C618.04 100.27 618.88 99.91 619.72 99.59C620.56 99.26 621.41 98.97 622.25 98.72C623.09 98.46 623.94 98.24 624.78 98.04C625.62 97.84 626.46 97.67 627.31 97.52C628.15 97.37 628.99 97.25 629.83 97.14C630.68 97.03 631.52 96.95 632.36 96.87C633.2 96.8 634.05 96.74 634.89 96.69C635.73 96.64 636.57 96.6 637.42 96.56C638.26 96.53 639.1 96.5 639.94 96.47C640.79 96.44 641.63 96.41 642.47 96.39C643.31 96.36 644.58 96.31 645 96.3" stroke="#e5563f" stroke-width="1.6" stroke-dasharray="4.7 4.9"/>
<path d="M508.5 159C508.92 159.01 510.18 159.05 511.02 159.05C511.86 159.06 512.7 159.06 513.54 159.05C514.38 159.03 515.22 159.01 516.06 158.98C516.9 158.95 517.73 158.9 518.57 158.85C519.41 158.8 520.25 158.73 521.09 158.66C521.93 158.59 522.77 158.5 523.61 158.41C524.45 158.31 525.29 158.21 526.13 158.09C526.97 157.98 527.81 157.85 528.65 157.72C529.49 157.58 530.33 157.44 531.17 157.28C532.01 157.12 532.85 156.95 533.69 156.78C534.52 156.6 535.36 156.41 536.2 156.21C537.04 156.01 537.88 155.81 538.72 155.59C539.56 155.37 540.4 155.14 541.24 154.9C542.08 154.65 542.92 154.4 543.76 154.14C544.6 153.88 545.44 153.61 546.28 153.32C547.12 153.04 547.96 152.75 548.8 152.44C549.64 152.14 550.48 151.82 551.31 151.5C552.15 151.17 552.99 150.83 553.83 150.49C554.67 150.14 555.51 149.78 556.35 149.41C557.19 149.04 558.03 148.66 558.87 148.27C559.71 147.88 560.55 147.48 561.39 147.07C562.23 146.66 563.07 146.23 563.91 145.8C564.75 145.37 565.59 144.93 566.43 144.48C567.27 144.03 568.1 143.57 568.94 143.11C569.78 142.64 570.62 142.17 571.46 141.69C572.3 141.21 573.14 140.72 573.98 140.23C574.82 139.73 575.66 139.23 576.5 138.73C577.34 138.23 578.18 137.72 579.02 137.2C579.86 136.69 580.7 136.17 581.54 135.66C582.38 135.14 583.22 134.61 584.06 134.09C584.9 133.56 585.73 133.03 586.57 132.5C587.41 131.97 588.25 131.44 589.09 130.91C589.93 130.38 590.77 129.85 591.61 129.32C592.45 128.79 593.29 128.26 594.13 127.73C594.97 127.19 595.81 126.66 596.65 126.13C597.49 125.61 598.33 125.08 599.17 124.55C600.01 124.02 600.85 123.5 601.69 122.97C602.52 122.45 603.36 121.93 604.2 121.41C605.04 120.89 605.88 120.37 606.72 119.86C607.56 119.35 608.4 118.83 609.24 118.33C610.08 117.82 610.92 117.31 611.76 116.81C612.6 116.31 613.44 115.82 614.28 115.32C615.12 114.83 615.96 114.34 616.8 113.86C617.64 113.38 618.48 112.9 619.31 112.43C620.15 111.95 620.99 111.48 621.83 111.03C622.67 110.57 623.51 110.12 624.35 109.68C625.19 109.23 626.03 108.8 626.87 108.38C627.71 107.97 628.55 107.56 629.39 107.17C630.23 106.77 631.07 106.4 631.91 106.03C632.75 105.67 633.59 105.33 634.43 105C635.27 104.67 636.1 104.36 636.94 104.08C637.78 103.79 638.62 103.52 639.46 103.28C640.3 103.03 641.14 102.81 641.98 102.61C642.82 102.42 644.08 102.19 644.5 102.1C644.67 103.15 645.15 107.3 645.5 108.4C645.85 109.5 646.42 108.65 646.6 108.7" stroke="#e5563f" stroke-width="1.5"/>
</g>
<rect x="501.4" y="19.8" width="182.9" height="154.4" fill="none" stroke="#8c8c8c" stroke-width="1.1"/>
<path d="M501.4 19.8V174.2H684.3" fill="none" stroke="#4a4a4a" stroke-width="1.1"/>
<path d="M497.1 168.5H501.4M497.1 150.61H501.4M497.1 132.72H501.4M497.1 114.84H501.4M497.1 96.95H501.4M497.1 79.06H501.4M497.1 61.17H501.4M497.1 43.29H501.4M497.1 25.4H501.4M508.4 174.2V178.3M564.75 174.2V178.3M621.1 174.2V178.3M677.45 174.2V178.3" stroke="#4a4a4a" stroke-width="1" fill="none"/>
<text x="493.5" y="171.8" font-size="9.5" fill="#333333" text-anchor="end">0</text>
<text x="493.5" y="153.91" font-size="9.5" fill="#333333" text-anchor="end">50</text>
<text x="493.5" y="136.03" font-size="9.5" fill="#333333" text-anchor="end">100</text>
<text x="493.5" y="118.14" font-size="9.5" fill="#333333" text-anchor="end">150</text>
<text x="493.5" y="100.25" font-size="9.5" fill="#333333" text-anchor="end">200</text>
<text x="493.5" y="82.36" font-size="9.5" fill="#333333" text-anchor="end">250</text>
<text x="493.5" y="64.47" font-size="9.5" fill="#333333" text-anchor="end">300</text>
<text x="493.5" y="46.59" font-size="9.5" fill="#333333" text-anchor="end">350</text>
<text x="493.5" y="28.7" font-size="9.5" fill="#333333" text-anchor="end">400</text>
<text x="508.4" y="187.8" font-size="9.5" fill="#333333" text-anchor="middle">0</text>
<text x="564.75" y="187.8" font-size="9.5" fill="#333333" text-anchor="middle">5</text>
<text x="621.1" y="187.8" font-size="9.5" fill="#333333" text-anchor="middle">10</text>
<text x="677.45" y="187.8" font-size="9.5" fill="#333333" text-anchor="middle">15</text>
<text x="592.85" y="8.7" font-size="11.4" font-weight="bold" fill="#000" text-anchor="middle">10 mm monolithic</text>
<text x="593.15" y="210.6" font-size="11.4" fill="#000" text-anchor="middle">Time [min]</text>
<text transform="translate(469.5 97.25) rotate(-90)" font-size="11.6" fill="#000" text-anchor="middle">Temperature [°C]</text>
<clipPath id="c3"><rect x="40.5" y="250.3" width="182.8" height="154.2"/></clipPath>
<path d="M40.5 399H223.3M40.5 381.11H223.3M40.5 363.23H223.3M40.5 345.34H223.3M40.5 327.45H223.3M40.5 309.56H223.3M40.5 291.68H223.3M40.5 273.79H223.3M40.5 255.9H223.3M47.4 250.3V404.5M103.7 250.3V404.5M160 250.3V404.5M216.3 250.3V404.5" stroke="#ebebeb" stroke-width="0.9" fill="none"/>
<g clip-path="url(#c3)" fill="none" stroke-linejoin="round">
<path d="M47.55 389.8L51.5 388.5C51.92 388.12 53.17 387.13 54 386.21C54.83 385.29 55.67 384.15 56.5 382.98C57.33 381.82 58.17 380.5 59 379.24C59.83 377.97 60.67 376.66 61.5 375.39C62.33 374.11 63.17 372.87 64 371.6C64.83 370.33 65.67 369.07 66.5 367.79C67.33 366.5 68.17 365.19 69 363.88C69.83 362.57 70.67 361.24 71.5 359.91C72.33 358.58 73.17 357.24 74 355.9C74.83 354.57 75.67 353.23 76.5 351.9C77.33 350.56 78.17 349.25 79 347.9C79.83 346.56 80.67 345.21 81.5 343.83C82.33 342.44 83.17 341.04 84 339.58C84.83 338.13 85.67 336.6 86.5 335.09C87.33 333.58 88.17 331.99 89 330.51C89.83 329.03 90.67 327.56 91.5 326.21C92.33 324.86 93.17 323.61 94 322.4C94.83 321.18 95.67 320.06 96.5 318.93C97.33 317.79 98.17 316.7 99 315.61C99.83 314.53 100.67 313.46 101.5 312.4C102.33 311.34 103.17 310.29 104 309.25C104.83 308.2 105.67 307.16 106.5 306.12C107.33 305.09 108.17 304.05 109 303.01C109.83 301.97 110.67 300.92 111.5 299.87C112.33 298.82 113.17 297.76 114 296.69C114.83 295.61 115.67 294.54 116.5 293.42C117.33 292.3 118.17 291.18 119 289.96C119.83 288.73 120.67 287.43 121.5 286.09C122.33 284.75 123.17 283.26 124 281.94C124.83 280.61 125.67 279.3 126.5 278.13C127.33 276.96 128.17 275.94 129 274.92C129.83 273.91 130.67 272.99 131.5 272.06C132.33 271.13 133.17 270.23 134 269.34C134.83 268.45 135.67 267.58 136.5 266.72C137.33 265.85 138.17 264.99 139 264.15C139.83 263.31 140.67 262.47 141.5 261.66C142.33 260.86 143.17 260.07 144 259.33C144.83 258.58 145.67 257.86 146.5 257.2C147.33 256.53 148.17 255.9 149 255.33C149.83 254.77 151.08 254.06 151.5 253.8C151.94 254.85 153.27 258.23 154.16 260.12C155.04 262.01 155.93 263.65 156.82 265.15C157.7 266.65 158.59 267.94 159.47 269.14C160.36 270.34 161.25 271.37 162.13 272.35C163.02 273.32 163.91 274.18 164.79 275.01C165.68 275.84 166.56 276.59 167.45 277.32C168.34 278.04 169.22 278.71 170.11 279.36C170.99 280.02 171.88 280.62 172.77 281.23C173.65 281.83 174.54 282.4 175.43 282.98C176.31 283.56 177.2 284.13 178.08 284.71C178.97 285.3 179.86 285.88 180.74 286.49C181.63 287.11 182.96 288.08 183.4 288.4C183.4 290.33 183.37 294.73 183.4 300C183.43 305.27 183.53 313.33 183.6 320C183.67 326.67 183.72 334.17 183.8 340C183.88 345.83 184.02 350.23 184.1 355C184.18 359.77 184.27 366.33 184.3 368.6" stroke="#4a94cf" stroke-width="1.65" stroke-dasharray="0 4.75" stroke-linecap="round"/>
<circle cx="184.3" cy="368.6" r="0.82" fill="#4a94cf" stroke="none"/>
<path d="M47.55 390C47.97 389.91 49.23 389.67 50.07 389.45C50.91 389.23 51.75 388.97 52.59 388.69C53.43 388.41 54.27 388.09 55.1 387.76C55.94 387.42 56.78 387.05 57.62 386.67C58.46 386.29 59.3 385.88 60.14 385.45C60.98 385.03 61.82 384.59 62.66 384.14C63.5 383.69 64.34 383.22 65.18 382.74C66.02 382.27 66.86 381.78 67.7 381.28C68.54 380.77 69.38 380.26 70.21 379.71C71.05 379.17 71.89 378.62 72.73 378.04C73.57 377.45 74.41 376.85 75.25 376.22C76.09 375.58 76.93 374.92 77.77 374.24C78.61 373.56 79.45 372.86 80.29 372.13C81.13 371.41 81.97 370.66 82.81 369.9C83.65 369.14 84.48 368.35 85.32 367.56C86.16 366.77 87 365.95 87.84 365.14C88.68 364.32 89.52 363.48 90.36 362.64C91.2 361.8 92.04 360.95 92.88 360.1C93.72 359.25 94.56 358.38 95.4 357.52C96.24 356.66 97.08 355.79 97.92 354.93C98.76 354.07 99.59 353.2 100.43 352.34C101.27 351.48 102.11 350.62 102.95 349.77C103.79 348.91 104.63 348.06 105.47 347.21C106.31 346.36 107.15 345.52 107.99 344.68C108.83 343.84 109.67 343 110.51 342.17C111.35 341.33 112.19 340.5 113.03 339.67C113.87 338.84 114.7 338.02 115.54 337.2C116.38 336.38 117.22 335.56 118.06 334.74C118.9 333.93 119.74 333.12 120.58 332.31C121.42 331.5 122.26 330.7 123.1 329.89C123.94 329.09 124.78 328.29 125.62 327.5C126.46 326.7 127.3 325.91 128.14 325.12C128.97 324.33 129.81 323.55 130.65 322.77C131.49 321.98 132.33 321.2 133.17 320.43C134.01 319.65 134.85 318.88 135.69 318.11C136.53 317.34 137.37 316.57 138.21 315.81C139.05 315.05 139.89 314.29 140.73 313.53C141.57 312.77 142.41 312.02 143.25 311.27C144.08 310.52 144.92 309.77 145.76 309.03C146.6 308.28 147.44 307.54 148.28 306.81C149.12 306.07 150.38 304.97 150.8 304.6C151.23 304.55 152.53 304.4 153.39 304.3C154.25 304.2 155.11 304.11 155.98 304.01C156.84 303.92 157.7 303.83 158.56 303.75C159.43 303.67 160.29 303.59 161.15 303.51C162.01 303.44 162.88 303.37 163.74 303.31C164.6 303.24 165.47 303.19 166.33 303.14C167.19 303.09 168.05 303.05 168.92 303.02C169.78 302.98 170.64 302.96 171.5 302.94C172.37 302.93 173.23 302.92 174.09 302.92C174.95 302.93 175.82 302.94 176.68 302.97C177.54 302.99 178.41 303.03 179.27 303.08C180.13 303.13 180.99 303.18 181.86 303.26C182.72 303.33 183.58 303.42 184.44 303.52C185.31 303.62 186.17 303.73 187.03 303.86C187.89 303.99 188.76 304.13 189.62 304.27C190.48 304.42 191.35 304.58 192.21 304.75C193.07 304.92 193.93 305.1 194.8 305.28C195.66 305.46 196.52 305.66 197.38 305.85C198.25 306.05 199.11 306.25 199.97 306.45C200.83 306.66 201.7 306.87 202.56 307.07C203.42 307.28 204.29 307.49 205.15 307.7C206.01 307.91 206.87 308.13 207.74 308.33C208.6 308.54 209.46 308.75 210.32 308.95C211.19 309.15 212.05 309.35 212.91 309.54C213.77 309.73 215.07 310.01 215.5 310.1" stroke="#4a94cf" stroke-width="1" stroke-dasharray="3.8 2.5"/>
<path d="M47.55 390C47.97 390.01 49.24 390.04 50.08 390.05C50.92 390.06 51.77 390.07 52.61 390.07C53.45 390.06 54.3 390.06 55.14 390.04C55.99 390.03 56.83 390.01 57.67 389.98C58.52 389.95 59.36 389.91 60.2 389.87C61.05 389.83 61.89 389.78 62.73 389.72C63.58 389.66 64.42 389.6 65.26 389.52C66.11 389.45 66.95 389.37 67.8 389.28C68.64 389.19 69.48 389.09 70.33 388.98C71.17 388.87 72.01 388.76 72.86 388.63C73.7 388.51 74.54 388.38 75.39 388.23C76.23 388.09 77.07 387.94 77.92 387.77C78.76 387.61 79.61 387.44 80.45 387.26C81.29 387.08 82.14 386.89 82.98 386.68C83.82 386.48 84.67 386.27 85.51 386.05C86.35 385.82 87.2 385.59 88.04 385.35C88.88 385.1 89.73 384.85 90.57 384.58C91.42 384.31 92.26 384.03 93.1 383.74C93.95 383.45 94.79 383.15 95.63 382.84C96.48 382.53 97.32 382.2 98.16 381.87C99.01 381.53 99.85 381.18 100.69 380.82C101.54 380.45 102.38 380.08 103.22 379.69C104.07 379.3 104.91 378.9 105.76 378.49C106.6 378.08 107.44 377.65 108.29 377.21C109.13 376.77 109.97 376.31 110.82 375.85C111.66 375.38 112.5 374.9 113.35 374.4C114.19 373.91 115.03 373.4 115.88 372.87C116.72 372.35 117.57 371.81 118.41 371.26C119.25 370.72 120.1 370.15 120.94 369.58C121.78 369.01 122.63 368.43 123.47 367.83C124.31 367.24 125.16 366.63 126 366.02C126.84 365.41 127.69 364.79 128.53 364.16C129.38 363.52 130.22 362.89 131.06 362.24C131.91 361.59 132.75 360.94 133.59 360.28C134.44 359.62 135.28 358.95 136.12 358.28C136.97 357.61 137.81 356.93 138.65 356.25C139.5 355.57 140.34 354.89 141.19 354.2C142.03 353.51 142.87 352.82 143.72 352.12C144.56 351.43 145.4 350.73 146.25 350.04C147.09 349.34 147.93 348.64 148.78 347.94C149.62 347.24 150.46 346.54 151.31 345.84C152.15 345.14 153 344.44 153.84 343.75C154.68 343.05 155.53 342.36 156.37 341.66C157.21 340.97 158.48 339.94 158.9 339.6C159.35 339.46 160.68 339.03 161.58 338.78C162.47 338.54 163.36 338.33 164.25 338.12C165.14 337.92 166.03 337.75 166.93 337.57C167.82 337.39 168.71 337.22 169.6 337.05C170.49 336.87 171.38 336.71 172.28 336.51C173.17 336.32 174.06 336.13 174.95 335.9C175.84 335.67 176.73 335.43 177.62 335.15C178.52 334.87 179.85 334.36 180.3 334.2C180.38 334.9 180.63 336.12 180.8 338.4C180.97 340.68 181.12 345 181.3 347.9C181.48 350.8 181.67 353.38 181.9 355.8C182.13 358.22 182.45 360.57 182.7 362.4C182.95 364.23 183.28 366.07 183.4 366.8C183.65 367.22 184.42 368.45 184.9 369.3C185.38 370.15 185.82 370.98 186.3 371.9C186.78 372.82 187.55 374.32 187.8 374.8C188.03 374.57 188.72 373.88 189.2 373.4C189.68 372.92 190.45 372.15 190.7 371.9C190.95 372.2 191.72 372.97 192.2 373.7C192.68 374.43 193.07 375.68 193.6 376.3C194.13 376.92 194.85 376.8 195.4 377.4C195.95 378 196.65 379.48 196.9 379.9L198.4 378.1L200.5 380.3L202.4 375.5L204.2 380.7L206.4 377.7L208.2 379.2L209.9 376.3L211.5 379.6L213 378.5L214.4 379.6L215.9 379.2" stroke="#4a94cf" stroke-width="1"/>
<path d="M47.55 390C47.98 389.95 49.25 389.85 50.1 389.73C50.96 389.61 51.81 389.45 52.66 389.27C53.51 389.09 54.36 388.87 55.21 388.63C56.07 388.39 56.92 388.12 57.77 387.82C58.62 387.52 59.47 387.2 60.32 386.85C61.18 386.49 62.03 386.12 62.88 385.71C63.73 385.31 64.58 384.89 65.43 384.44C66.29 383.99 67.14 383.51 67.99 383.02C68.84 382.52 69.69 382.01 70.54 381.47C71.4 380.93 72.25 380.37 73.1 379.8C73.95 379.22 74.8 378.62 75.65 378.01C76.51 377.39 77.36 376.76 78.21 376.11C79.06 375.46 79.91 374.8 80.76 374.12C81.62 373.44 82.47 372.74 83.32 372.03C84.17 371.32 85.02 370.6 85.87 369.86C86.72 369.13 87.58 368.38 88.43 367.62C89.28 366.86 90.13 366.09 90.98 365.32C91.83 364.54 92.69 363.76 93.54 362.97C94.39 362.18 95.24 361.38 96.09 360.58C96.94 359.77 97.8 358.97 98.65 358.16C99.5 357.35 100.35 356.54 101.2 355.72C102.05 354.91 102.91 354.09 103.76 353.28C104.61 352.47 105.46 351.66 106.31 350.84C107.16 350.03 108.02 349.22 108.87 348.41C109.72 347.6 110.57 346.78 111.42 345.97C112.27 345.16 113.13 344.35 113.98 343.54C114.83 342.72 115.68 341.91 116.53 341.09C117.38 340.28 118.23 339.46 119.09 338.65C119.94 337.83 120.79 337.01 121.64 336.19C122.49 335.37 123.34 334.55 124.2 333.73C125.05 332.9 125.9 332.08 126.75 331.25C127.6 330.42 128.45 329.59 129.31 328.76C130.16 327.92 131.01 327.09 131.86 326.25C132.71 325.41 133.56 324.56 134.42 323.72C135.27 322.87 136.12 322.02 136.97 321.17C137.82 320.31 138.67 319.46 139.53 318.59C140.38 317.73 141.23 316.87 142.08 316C142.93 315.12 143.78 314.25 144.64 313.37C145.49 312.49 146.34 311.6 147.19 310.71C148.04 309.82 148.89 308.93 149.75 308.02C150.6 307.12 151.87 305.75 152.3 305.3C152.74 305.21 154.06 304.92 154.94 304.75C155.82 304.59 156.7 304.45 157.58 304.32C158.46 304.19 159.34 304.07 160.23 303.97C161.11 303.87 161.99 303.79 162.87 303.71C163.75 303.63 164.63 303.57 165.51 303.51C166.39 303.45 167.27 303.4 168.15 303.35C169.03 303.3 169.91 303.26 170.79 303.22C171.67 303.18 172.55 303.15 173.43 303.11C174.31 303.08 175.19 303.04 176.07 303C176.96 302.96 177.84 302.92 178.72 302.87C179.6 302.82 180.48 302.77 181.36 302.71C182.24 302.65 183.56 302.54 184 302.5" stroke="#e5563f" stroke-width="1.6" stroke-dasharray="4.7 4.9"/>
<path d="M47.55 389.8C47.97 389.83 49.22 389.93 50.06 389.97C50.89 390.02 51.73 390.04 52.57 390.05C53.4 390.06 54.24 390.06 55.07 390.04C55.91 390.02 56.75 389.98 57.58 389.93C58.42 389.88 59.26 389.81 60.09 389.73C60.93 389.65 61.76 389.55 62.6 389.44C63.44 389.32 64.27 389.2 65.11 389.05C65.94 388.91 66.78 388.76 67.62 388.58C68.45 388.41 69.29 388.23 70.12 388.02C70.96 387.82 71.8 387.61 72.63 387.38C73.47 387.15 74.31 386.9 75.14 386.65C75.98 386.39 76.81 386.11 77.65 385.83C78.49 385.54 79.32 385.24 80.16 384.93C80.99 384.61 81.83 384.28 82.67 383.94C83.5 383.6 84.34 383.24 85.17 382.88C86.01 382.51 86.85 382.12 87.68 381.73C88.52 381.33 89.36 380.92 90.19 380.5C91.03 380.08 91.86 379.64 92.7 379.2C93.54 378.75 94.37 378.29 95.21 377.81C96.04 377.34 96.88 376.85 97.72 376.35C98.55 375.85 99.39 375.34 100.22 374.82C101.06 374.29 101.9 373.76 102.73 373.21C103.57 372.66 104.41 372.1 105.24 371.52C106.08 370.95 106.91 370.37 107.75 369.77C108.59 369.17 109.42 368.56 110.26 367.94C111.09 367.32 111.93 366.69 112.77 366.04C113.6 365.4 114.44 364.74 115.27 364.08C116.11 363.41 116.95 362.73 117.78 362.04C118.62 361.35 119.46 360.65 120.29 359.94C121.13 359.23 121.96 358.5 122.8 357.77C123.64 357.04 124.47 356.29 125.31 355.54C126.14 354.79 126.98 354.03 127.82 353.26C128.65 352.49 129.49 351.72 130.32 350.94C131.16 350.16 132 349.38 132.83 348.59C133.67 347.8 134.51 347.01 135.34 346.23C136.18 345.44 137.01 344.64 137.85 343.85C138.69 343.07 139.52 342.28 140.36 341.49C141.19 340.71 142.03 339.92 142.87 339.14C143.7 338.37 144.54 337.59 145.38 336.83C146.21 336.06 147.05 335.3 147.88 334.55C148.72 333.8 149.56 333.05 150.39 332.32C151.23 331.59 152.06 330.87 152.9 330.16C153.74 329.45 154.57 328.75 155.41 328.07C156.24 327.39 157.08 326.72 157.92 326.07C158.75 325.42 159.59 324.78 160.43 324.16C161.26 323.55 162.1 322.94 162.93 322.36C163.77 321.78 164.61 321.21 165.44 320.67C166.28 320.13 167.11 319.61 167.95 319.11C168.79 318.61 169.62 318.13 170.46 317.67C171.29 317.22 172.13 316.78 172.97 316.38C173.8 315.97 174.64 315.59 175.47 315.24C176.31 314.88 177.15 314.55 177.98 314.25C178.82 313.95 179.66 313.68 180.49 313.44C181.33 313.2 182.58 312.91 183 312.8C183.1 314.47 183.23 321.03 183.6 322.8C183.97 324.57 184.93 323.3 185.2 323.4" stroke="#e5563f" stroke-width="1.5"/>
</g>
<rect x="40.5" y="250.3" width="182.8" height="154.2" fill="none" stroke="#8c8c8c" stroke-width="1.1"/>
<path d="M40.5 250.3V404.5H223.3" fill="none" stroke="#4a4a4a" stroke-width="1.1"/>
<path d="M36.2 399H40.5M36.2 381.11H40.5M36.2 363.23H40.5M36.2 345.34H40.5M36.2 327.45H40.5M36.2 309.56H40.5M36.2 291.68H40.5M36.2 273.79H40.5M36.2 255.9H40.5M47.4 404.5V408.6M103.7 404.5V408.6M160 404.5V408.6M216.3 404.5V408.6" stroke="#4a4a4a" stroke-width="1" fill="none"/>
<text x="32.6" y="402.3" font-size="9.5" fill="#333333" text-anchor="end">0</text>
<text x="32.6" y="384.41" font-size="9.5" fill="#333333" text-anchor="end">50</text>
<text x="32.6" y="366.53" font-size="9.5" fill="#333333" text-anchor="end">100</text>
<text x="32.6" y="348.64" font-size="9.5" fill="#333333" text-anchor="end">150</text>
<text x="32.6" y="330.75" font-size="9.5" fill="#333333" text-anchor="end">200</text>
<text x="32.6" y="312.86" font-size="9.5" fill="#333333" text-anchor="end">250</text>
<text x="32.6" y="294.98" font-size="9.5" fill="#333333" text-anchor="end">300</text>
<text x="32.6" y="277.09" font-size="9.5" fill="#333333" text-anchor="end">350</text>
<text x="32.6" y="259.2" font-size="9.5" fill="#333333" text-anchor="end">400</text>
<text x="47.4" y="418.1" font-size="9.5" fill="#333333" text-anchor="middle">0</text>
<text x="103.7" y="418.1" font-size="9.5" fill="#333333" text-anchor="middle">5</text>
<text x="160" y="418.1" font-size="9.5" fill="#333333" text-anchor="middle">10</text>
<text x="216.3" y="418.1" font-size="9.5" fill="#333333" text-anchor="middle">15</text>
<text x="131.9" y="239.2" font-size="11.4" font-weight="bold" fill="#000" text-anchor="middle">4/1.52/4 laminated</text>
<text x="132.2" y="440.9" font-size="11.4" fill="#000" text-anchor="middle">Time [min]</text>
<text transform="translate(8.6 327.65) rotate(-90)" font-size="11.6" fill="#000" text-anchor="middle">Temperature [°C]</text>
<clipPath id="c4"><rect x="271" y="250.3" width="182.5" height="154.2"/></clipPath>
<path d="M271 399H453.5M271 381.11H453.5M271 363.23H453.5M271 345.34H453.5M271 327.45H453.5M271 309.56H453.5M271 291.68H453.5M271 273.79H453.5M271 255.9H453.5M277.55 250.3V404.5M334.04 250.3V404.5M390.52 250.3V404.5M447 250.3V404.5" stroke="#ebebeb" stroke-width="0.9" fill="none"/>
<g clip-path="url(#c4)" fill="none" stroke-linejoin="round">
<path d="M277.6 379L282.4 377.5C282.83 376.93 284.13 375.24 285 374.05C285.86 372.87 286.73 371.64 287.59 370.39C288.46 369.13 289.32 367.84 290.19 366.53C291.05 365.22 291.92 363.88 292.78 362.53C293.65 361.18 294.51 359.81 295.38 358.43C296.24 357.05 297.11 355.66 297.97 354.26C298.84 352.87 299.71 351.47 300.57 350.07C301.44 348.67 302.3 347.27 303.17 345.86C304.03 344.46 304.9 343.05 305.76 341.64C306.63 340.23 307.49 338.82 308.36 337.41C309.22 335.99 310.09 334.58 310.95 333.16C311.82 331.75 312.68 330.33 313.55 328.91C314.42 327.49 315.28 326.07 316.15 324.67C317.01 323.26 317.88 321.86 318.74 320.48C319.61 319.1 320.47 317.73 321.34 316.39C322.2 315.05 323.07 313.74 323.93 312.44C324.8 311.14 325.66 309.87 326.53 308.6C327.39 307.34 328.26 306.09 329.12 304.86C329.99 303.62 330.86 302.38 331.72 301.17C332.59 299.95 333.45 298.73 334.32 297.54C335.18 296.35 336.05 295.17 336.91 294.02C337.78 292.87 338.64 291.74 339.51 290.64C340.37 289.54 341.24 288.46 342.1 287.42C342.97 286.38 344.27 284.9 344.7 284.4C345.13 284.23 346.42 283.72 347.28 283.37C348.15 283.01 349.01 282.65 349.87 282.28C350.73 281.92 351.59 281.54 352.45 281.16C353.32 280.78 354.18 280.4 355.04 280.01C355.9 279.62 356.76 279.22 357.62 278.83C358.48 278.43 359.35 278.03 360.21 277.62C361.07 277.22 361.93 276.81 362.79 276.4C363.65 276 364.52 275.59 365.38 275.18C366.24 274.77 367.1 274.36 367.96 273.95C368.82 273.54 369.68 273.13 370.55 272.72C371.41 272.32 372.27 271.91 373.13 271.51C373.99 271.11 374.85 270.71 375.72 270.31C376.58 269.91 377.44 269.52 378.3 269.13C379.16 268.75 380.02 268.36 380.88 267.99C381.75 267.61 382.61 267.24 383.47 266.87C384.33 266.51 385.19 266.15 386.05 265.79C386.92 265.43 387.78 265.08 388.64 264.74C389.5 264.39 390.36 264.05 391.22 263.71C392.08 263.37 392.95 263.04 393.81 262.71C394.67 262.38 395.53 262.05 396.39 261.73C397.25 261.41 398.12 261.09 398.98 260.78C399.84 260.46 400.7 260.15 401.56 259.85C402.42 259.54 403.28 259.23 404.15 258.93C405.01 258.63 405.87 258.34 406.73 258.04C407.59 257.74 408.45 257.45 409.32 257.16C410.18 256.87 411.47 256.44 411.9 256.3L414.4 257C414.4 261.17 414.4 274.83 414.4 282C414.4 289.17 414.4 292.58 414.4 300C414.4 307.42 414.4 322.08 414.4 326.5" stroke="#4a94cf" stroke-width="1.65" stroke-dasharray="0 4.75" stroke-linecap="round"/>
<circle cx="414.4" cy="326.5" r="0.82" fill="#4a94cf" stroke="none"/>
<path d="M277.6 385.1C278.02 384.95 279.29 384.5 280.14 384.18C280.98 383.85 281.83 383.52 282.67 383.16C283.52 382.81 284.36 382.45 285.21 382.06C286.05 381.68 286.9 381.29 287.74 380.88C288.59 380.47 289.43 380.04 290.28 379.6C291.12 379.16 291.97 378.71 292.81 378.24C293.66 377.77 294.5 377.29 295.35 376.79C296.19 376.29 297.04 375.78 297.88 375.25C298.73 374.72 299.57 374.18 300.42 373.63C301.26 373.07 302.11 372.5 302.95 371.92C303.8 371.33 304.64 370.73 305.49 370.12C306.33 369.51 307.18 368.88 308.02 368.24C308.87 367.6 309.71 366.94 310.56 366.27C311.4 365.6 312.25 364.91 313.09 364.21C313.94 363.52 314.78 362.8 315.63 362.08C316.47 361.35 317.32 360.61 318.16 359.86C319.01 359.1 319.85 358.34 320.7 357.56C321.54 356.78 322.39 355.99 323.23 355.19C324.08 354.38 324.92 353.57 325.77 352.74C326.61 351.91 327.46 351.07 328.3 350.22C329.15 349.38 329.99 348.52 330.84 347.67C331.68 346.82 332.53 345.96 333.37 345.14C334.22 344.31 335.06 343.49 335.91 342.71C336.75 341.92 337.6 341.16 338.44 340.45C339.29 339.74 340.13 339.06 340.98 338.44C341.82 337.83 342.67 337.27 343.51 336.76C344.36 336.25 345.2 335.8 346.05 335.37C346.9 334.94 347.74 334.56 348.59 334.17C349.43 333.78 350.28 333.42 351.12 333.03C351.97 332.65 352.81 332.27 353.66 331.85C354.5 331.42 355.35 330.97 356.19 330.5C357.04 330.02 357.88 329.51 358.73 329.01C359.57 328.5 360.42 327.98 361.26 327.47C362.11 326.97 362.95 326.46 363.8 325.97C364.64 325.47 365.49 324.98 366.33 324.49C367.18 324.01 368.02 323.52 368.87 323.04C369.71 322.57 370.56 322.09 371.4 321.62C372.25 321.14 373.09 320.67 373.94 320.21C374.78 319.74 375.63 319.27 376.47 318.8C377.32 318.34 378.16 317.87 379.01 317.41C379.85 316.94 380.7 316.48 381.54 316.01C382.39 315.55 383.23 315.09 384.08 314.62C384.92 314.16 385.77 313.69 386.61 313.23C387.46 312.76 388.3 312.29 389.15 311.83C389.99 311.36 390.84 310.9 391.68 310.43C392.53 309.97 393.37 309.5 394.22 309.04C395.06 308.57 395.91 308.11 396.75 307.64C397.6 307.18 398.44 306.71 399.29 306.25C400.13 305.79 400.98 305.32 401.82 304.86C402.67 304.39 403.51 303.93 404.36 303.46C405.2 303 406.05 302.53 406.89 302.07C407.74 301.61 408.58 301.14 409.43 300.68C410.27 300.22 411.12 299.75 411.96 299.29C412.81 298.83 414.08 298.13 414.5 297.9C414.94 297.74 416.26 297.18 417.13 296.95C418.01 296.71 418.89 296.58 419.77 296.49C420.64 296.4 421.52 296.39 422.4 296.4C423.28 296.41 424.16 296.48 425.03 296.55C425.91 296.62 426.79 296.72 427.67 296.82C428.54 296.91 429.42 297.02 430.3 297.13C431.18 297.23 432.06 297.34 432.93 297.43C433.81 297.53 434.69 297.62 435.57 297.71C436.44 297.79 437.32 297.87 438.2 297.95C439.08 298.03 439.96 298.1 440.83 298.17C441.71 298.25 442.59 298.32 443.47 298.39C444.34 298.47 445.22 298.54 446.1 298.62C446.98 298.7 447.86 298.79 448.73 298.88C449.61 298.97 450.49 299.06 451.37 299.16C452.24 299.27 453.56 299.44 454 299.5" stroke="#4a94cf" stroke-width="1" stroke-dasharray="3.8 2.5"/>
<path d="M277.6 387.3C278.02 387.31 279.29 387.36 280.14 387.38C280.98 387.41 281.83 387.42 282.67 387.43C283.52 387.44 284.36 387.44 285.21 387.44C286.05 387.43 286.9 387.42 287.74 387.4C288.59 387.39 289.43 387.36 290.28 387.33C291.12 387.3 291.97 387.26 292.81 387.22C293.66 387.18 294.5 387.13 295.35 387.07C296.19 387.01 297.04 386.95 297.88 386.88C298.73 386.81 299.57 386.73 300.42 386.64C301.26 386.56 302.11 386.47 302.95 386.37C303.8 386.27 304.64 386.17 305.49 386.06C306.33 385.95 307.18 385.83 308.02 385.7C308.87 385.58 309.71 385.45 310.56 385.31C311.4 385.17 312.25 385.02 313.09 384.87C313.94 384.72 314.78 384.56 315.63 384.39C316.47 384.23 317.32 384.06 318.16 383.88C319.01 383.7 319.85 383.51 320.7 383.31C321.54 383.12 322.39 382.92 323.23 382.71C324.08 382.5 324.92 382.29 325.77 382.07C326.61 381.85 327.46 381.62 328.3 381.38C329.15 381.14 329.99 380.9 330.84 380.65C331.68 380.4 332.53 380.14 333.37 379.88C334.22 379.61 335.06 379.34 335.91 379.06C336.75 378.79 337.6 378.5 338.44 378.21C339.29 377.91 340.13 377.61 340.98 377.31C341.82 377 342.67 376.68 343.51 376.36C344.36 376.04 345.2 375.71 346.05 375.38C346.9 375.04 347.74 374.7 348.59 374.34C349.43 373.99 350.28 373.63 351.12 373.27C351.97 372.9 352.81 372.53 353.66 372.15C354.5 371.77 355.35 371.39 356.19 370.99C357.04 370.6 357.88 370.2 358.73 369.8C359.57 369.39 360.42 368.98 361.26 368.57C362.11 368.15 362.95 367.73 363.8 367.3C364.64 366.88 365.49 366.45 366.33 366.01C367.18 365.58 368.02 365.14 368.87 364.69C369.71 364.25 370.56 363.8 371.4 363.35C372.25 362.9 373.09 362.44 373.94 361.99C374.78 361.53 375.63 361.07 376.47 360.6C377.32 360.14 378.16 359.67 379.01 359.2C379.85 358.74 380.7 358.26 381.54 357.79C382.39 357.32 383.23 356.85 384.08 356.37C384.92 355.9 385.77 355.42 386.61 354.94C387.46 354.46 388.3 353.99 389.15 353.51C389.99 353.03 390.84 352.55 391.68 352.07C392.53 351.59 393.37 351.11 394.22 350.63C395.06 350.16 395.91 349.68 396.75 349.2C397.6 348.73 398.44 348.25 399.29 347.78C400.13 347.3 400.98 346.83 401.82 346.36C402.67 345.89 403.51 345.42 404.36 344.95C405.2 344.48 406.05 344.02 406.89 343.56C407.74 343.1 408.58 342.64 409.43 342.18C410.27 341.73 411.12 341.28 411.96 340.83C412.81 340.38 414.08 339.72 414.5 339.5C414.94 339.38 416.26 339.01 417.13 338.77C418.01 338.52 418.89 338.28 419.77 338.04C420.64 337.8 421.52 337.56 422.4 337.33C423.28 337.09 424.16 336.86 425.03 336.62C425.91 336.39 426.79 336.16 427.67 335.93C428.54 335.71 429.42 335.48 430.3 335.26C431.18 335.03 432.06 334.81 432.93 334.59C433.81 334.38 434.69 334.16 435.57 333.95C436.44 333.74 437.32 333.53 438.2 333.32C439.08 333.12 439.96 332.91 440.83 332.71C441.71 332.51 442.59 332.32 443.47 332.12C444.34 331.93 445.22 331.74 446.1 331.56C446.98 331.37 447.86 331.19 448.73 331.01C449.61 330.84 450.49 330.66 451.37 330.49C452.24 330.33 453.56 330.08 454 330" stroke="#4a94cf" stroke-width="1"/>
<path d="M278.1 385.1C278.52 384.98 279.78 384.65 280.62 384.38C281.46 384.12 282.29 383.84 283.13 383.53C283.97 383.23 284.81 382.9 285.65 382.55C286.49 382.2 287.33 381.83 288.17 381.45C289.01 381.06 289.84 380.65 290.68 380.23C291.52 379.81 292.36 379.36 293.2 378.91C294.04 378.45 294.88 377.97 295.72 377.48C296.56 376.99 297.39 376.48 298.23 375.96C299.07 375.44 299.91 374.91 300.75 374.36C301.59 373.81 302.43 373.25 303.27 372.67C304.11 372.1 304.94 371.51 305.78 370.92C306.62 370.32 307.46 369.71 308.3 369.09C309.14 368.47 309.98 367.85 310.82 367.21C311.66 366.57 312.49 365.93 313.33 365.28C314.17 364.62 315.01 363.96 315.85 363.3C316.69 362.63 317.53 361.96 318.37 361.28C319.21 360.6 320.04 359.92 320.88 359.23C321.72 358.55 322.56 357.85 323.4 357.16C324.24 356.47 325.08 355.77 325.92 355.07C326.76 354.37 327.59 353.67 328.43 352.97C329.27 352.27 330.11 351.57 330.95 350.87C331.79 350.17 332.63 349.47 333.47 348.77C334.31 348.08 335.14 347.38 335.98 346.69C336.82 345.99 337.66 345.3 338.5 344.62C339.34 343.93 340.18 343.25 341.02 342.57C341.86 341.9 342.69 341.22 343.53 340.56C344.37 339.89 345.21 339.24 346.05 338.58C346.89 337.93 347.73 337.29 348.57 336.66C349.41 336.02 350.24 335.4 351.08 334.78C351.92 334.16 352.76 333.56 353.6 332.96C354.44 332.36 355.28 331.77 356.12 331.19C356.96 330.61 357.79 330.04 358.63 329.48C359.47 328.92 360.31 328.36 361.15 327.81C361.99 327.26 362.83 326.72 363.67 326.19C364.51 325.66 365.34 325.13 366.18 324.61C367.02 324.09 367.86 323.58 368.7 323.07C369.54 322.57 370.38 322.07 371.22 321.57C372.06 321.08 372.89 320.59 373.73 320.1C374.57 319.62 375.41 319.14 376.25 318.67C377.09 318.19 377.93 317.72 378.77 317.26C379.61 316.79 380.44 316.33 381.28 315.87C382.12 315.42 382.96 314.96 383.8 314.51C384.64 314.06 385.48 313.62 386.32 313.17C387.16 312.73 387.99 312.29 388.83 311.85C389.67 311.41 390.51 310.97 391.35 310.54C392.19 310.1 393.03 309.67 393.87 309.24C394.71 308.81 395.54 308.38 396.38 307.95C397.22 307.52 398.06 307.09 398.9 306.66C399.74 306.23 400.58 305.81 401.42 305.38C402.26 304.95 403.09 304.52 403.93 304.1C404.77 303.67 405.61 303.24 406.45 302.81C407.29 302.38 408.13 301.95 408.97 301.52C409.81 301.08 410.64 300.65 411.48 300.21C412.32 299.78 413.58 299.12 414 298.9" stroke="#e5563f" stroke-width="1.6" stroke-dasharray="4.7 4.9"/>
<path d="M278.1 385.1C278.52 385.15 279.78 385.32 280.62 385.41C281.46 385.5 282.29 385.57 283.13 385.63C283.97 385.68 284.81 385.73 285.65 385.75C286.49 385.78 287.33 385.79 288.17 385.78C289.01 385.78 289.84 385.76 290.68 385.73C291.52 385.7 292.36 385.65 293.2 385.59C294.04 385.53 294.88 385.45 295.72 385.36C296.56 385.27 297.39 385.17 298.23 385.06C299.07 384.94 299.91 384.81 300.75 384.67C301.59 384.53 302.43 384.38 303.27 384.21C304.11 384.05 304.94 383.87 305.78 383.68C306.62 383.49 307.46 383.29 308.3 383.08C309.14 382.86 309.98 382.64 310.82 382.4C311.66 382.17 312.49 381.92 313.33 381.67C314.17 381.41 315.01 381.14 315.85 380.86C316.69 380.59 317.53 380.3 318.37 380C319.21 379.7 320.04 379.4 320.88 379.08C321.72 378.76 322.56 378.44 323.4 378.1C324.24 377.77 325.08 377.43 325.92 377.07C326.76 376.72 327.59 376.36 328.43 375.99C329.27 375.63 330.11 375.25 330.95 374.86C331.79 374.48 332.63 374.09 333.47 373.69C334.31 373.29 335.14 372.88 335.98 372.47C336.82 372.06 337.66 371.64 338.5 371.21C339.34 370.79 340.18 370.35 341.02 369.91C341.86 369.48 342.69 369.03 343.53 368.58C344.37 368.13 345.21 367.67 346.05 367.21C346.89 366.75 347.73 366.29 348.57 365.82C349.41 365.35 350.24 364.87 351.08 364.39C351.92 363.91 352.76 363.43 353.6 362.94C354.44 362.45 355.28 361.96 356.12 361.46C356.96 360.97 357.79 360.47 358.63 359.97C359.47 359.46 360.31 358.96 361.15 358.45C361.99 357.94 362.83 357.43 363.67 356.92C364.51 356.41 365.34 355.89 366.18 355.38C367.02 354.86 367.86 354.34 368.7 353.82C369.54 353.3 370.38 352.78 371.22 352.26C372.06 351.73 372.89 351.21 373.73 350.69C374.57 350.16 375.41 349.64 376.25 349.11C377.09 348.59 377.93 348.06 378.77 347.54C379.61 347.02 380.44 346.49 381.28 345.97C382.12 345.44 382.96 344.92 383.8 344.4C384.64 343.88 385.48 343.36 386.32 342.84C387.16 342.32 387.99 341.8 388.83 341.28C389.67 340.77 390.51 340.25 391.35 339.74C392.19 339.23 393.03 338.72 393.87 338.22C394.71 337.71 395.54 337.21 396.38 336.7C397.22 336.2 398.06 335.71 398.9 335.21C399.74 334.72 400.58 334.23 401.42 333.74C402.26 333.26 403.09 332.77 403.93 332.3C404.77 331.82 405.61 331.34 406.45 330.88C407.29 330.41 408.13 329.94 408.97 329.49C409.81 329.03 410.64 328.57 411.48 328.13C412.32 327.68 413.58 327.02 414 326.8C414.08 328.28 414.25 334.17 414.5 335.7C414.75 337.23 415.33 335.95 415.5 336" stroke="#e5563f" stroke-width="1.5"/>
</g>
<rect x="271" y="250.3" width="182.5" height="154.2" fill="none" stroke="#8c8c8c" stroke-width="1.1"/>
<path d="M271 250.3V404.5H453.5" fill="none" stroke="#4a4a4a" stroke-width="1.1"/>
<path d="M266.7 399H271M266.7 381.11H271M266.7 363.23H271M266.7 345.34H271M266.7 327.45H271M266.7 309.56H271M266.7 291.68H271M266.7 273.79H271M266.7 255.9H271M277.55 404.5V408.6M334.04 404.5V408.6M390.52 404.5V408.6M447 404.5V408.6" stroke="#4a4a4a" stroke-width="1" fill="none"/>
<text x="263.1" y="402.3" font-size="9.5" fill="#333333" text-anchor="end">0</text>
<text x="263.1" y="384.41" font-size="9.5" fill="#333333" text-anchor="end">50</text>
<text x="263.1" y="366.53" font-size="9.5" fill="#333333" text-anchor="end">100</text>
<text x="263.1" y="348.64" font-size="9.5" fill="#333333" text-anchor="end">150</text>
<text x="263.1" y="330.75" font-size="9.5" fill="#333333" text-anchor="end">200</text>
<text x="263.1" y="312.86" font-size="9.5" fill="#333333" text-anchor="end">250</text>
<text x="263.1" y="294.98" font-size="9.5" fill="#333333" text-anchor="end">300</text>
<text x="263.1" y="277.09" font-size="9.5" fill="#333333" text-anchor="end">350</text>
<text x="263.1" y="259.2" font-size="9.5" fill="#333333" text-anchor="end">400</text>
<text x="277.55" y="418.1" font-size="9.5" fill="#333333" text-anchor="middle">0</text>
<text x="334.04" y="418.1" font-size="9.5" fill="#333333" text-anchor="middle">5</text>
<text x="390.52" y="418.1" font-size="9.5" fill="#333333" text-anchor="middle">10</text>
<text x="447" y="418.1" font-size="9.5" fill="#333333" text-anchor="middle">15</text>
<text x="362.25" y="239.2" font-size="11.4" font-weight="bold" fill="#000" text-anchor="middle">6/1.52/6 laminated</text>
<text x="362.55" y="440.9" font-size="11.4" fill="#000" text-anchor="middle">Time [min]</text>
<text transform="translate(239.1 327.65) rotate(-90)" font-size="11.6" fill="#000" text-anchor="middle">Temperature [°C]</text>
<rect x="534.3" y="293.6" width="117.9" height="67.9" fill="#fff" stroke="#555" stroke-width="1"/>
<path d="M542.2 304.6H560" stroke="#4a94cf" stroke-width="1.6" stroke-dasharray="0 4.9" stroke-linecap="round" fill="none"/>
<path d="M542.2 316.2H560" stroke="#4a94cf" stroke-width="0.9" stroke-dasharray="4 2.3" fill="none" opacity="0.75"/>
<path d="M542.2 327.5H560" stroke="#4a94cf" stroke-width="0.9" fill="none"/>
<path d="M542.2 338.9H560" stroke="#e5563f" stroke-width="1.6" stroke-dasharray="4.7 4.9" fill="none" opacity="0.8"/>
<path d="M542.2 350.3H560" stroke="#e5563f" stroke-width="1.5" fill="none"/>
<text x="568.6" y="307.9" font-size="9.5" fill="#222">exp oven/sim input</text>
<text x="568.6" y="319.5" font-size="9.5" fill="#222">exp glass in</text>
<text x="568.6" y="330.8" font-size="9.5" fill="#222">exp glass out</text>
<text x="568.6" y="342.2" font-size="9.5" fill="#222">sim glass in</text>
<text x="568.6" y="353.6" font-size="9.5" fill="#222">sim glass out</text>
<rect x="205.6" y="476" width="64.2" height="236.8" fill="#eaf6fe"/>
<path d="M183.9 476H290.5M185.3 712.8H290.7" stroke="#808080" stroke-width="1.5" stroke-dasharray="8.6 7.7" fill="none"/>
<path d="M205.6 476V712.8M269.8 476V712.8" stroke="#3a3a3a" stroke-width="1" fill="none"/>
<path d="M104.1 539L127.4 594.6M179.4 517L205.7 594.4M299 517L269.8 594.4" stroke="#000" stroke-width="0.9" fill="none"/>
<path d="M119.8 587L135 602.2M119.8 602.2L135 587" stroke="#ff0000" stroke-width="3" stroke-linecap="round" fill="none"/>
<path d="M198.1 586.8L213.3 602M198.1 602L213.3 586.8" stroke="#ff0000" stroke-width="3" stroke-linecap="round" fill="none"/>
<path d="M262.2 586.8L277.4 602M262.2 602L277.4 586.8" stroke="#ff0000" stroke-width="3" stroke-linecap="round" fill="none"/>
<text x="90.8" y="533.2" font-size="10.6" fill="#111" stroke="#111" stroke-width="0.2" textLength="23.2" lengthAdjust="spacingAndGlyphs">oven</text>
<text x="151.2" y="511.9" font-size="10.6" fill="#111" stroke="#111" stroke-width="0.2" textLength="34.8" lengthAdjust="spacingAndGlyphs">glass in</text>
<text x="292.7" y="511.8" font-size="10.6" fill="#111" stroke="#111" stroke-width="0.2" textLength="42.7" lengthAdjust="spacingAndGlyphs">glass out</text>
<path d="M65.7 530.4H82" stroke="#4a94cf" stroke-width="1.3" stroke-dasharray="0 4.9" stroke-linecap="round" fill="none"/>
<path d="M124.3 506.4H141" stroke="#4a94cf" stroke-width="1" stroke-dasharray="4.3 2" fill="none"/>
<path d="M124.3 510.5H139" stroke="#e5563f" stroke-width="1.3" stroke-dasharray="4.7 4.7" fill="none"/>
<path d="M344.6 506.4H362.8" stroke="#4a94cf" stroke-width="1" fill="none"/>
<path d="M344.6 510.8H362.8" stroke="#e5563f" stroke-width="1.5" fill="none"/>
<text transform="translate(199.4 710.3) rotate(-90)" font-size="11" fill="#111" stroke="#111" stroke-width="0.2" textLength="57" lengthAdjust="spacingAndGlyphs">inside/oven</text>
<text transform="translate(263.9 709.3) rotate(-90)" font-size="11" fill="#111" stroke="#111" stroke-width="0.2" textLength="22.8" lengthAdjust="spacingAndGlyphs">glass</text>
<text transform="translate(284.7 709.8) rotate(-90)" font-size="11" fill="#111" stroke="#111" stroke-width="0.2" textLength="36.4" lengthAdjust="spacingAndGlyphs">outside</text>
<path d="M117.2 751H277.6" stroke="#111" stroke-width="1.3" fill="none"/>
<path d="M127.1 743.1V759.8M205.3 743.1V760M269.6 743.1V760" stroke="#111" stroke-width="1.3" fill="none"/>
<path d="M121.8 756.9L133.6 745.5M199.5 757L211.6 745.3M264.2 757L275.8 745.3M154 756.9L165.2 745.8M159.7 756.9L170.8 745.5" stroke="#111" stroke-width="1.2" fill="none"/>
<text x="158.6" y="743.5" font-size="11" fill="#111" stroke="#111" stroke-width="0.2" textLength="16.7" lengthAdjust="spacingAndGlyphs">150</text>
<text x="236.2" y="742.8" font-size="11" fill="#111" stroke="#111" stroke-width="0.2">t</text>
</svg></body></html>
